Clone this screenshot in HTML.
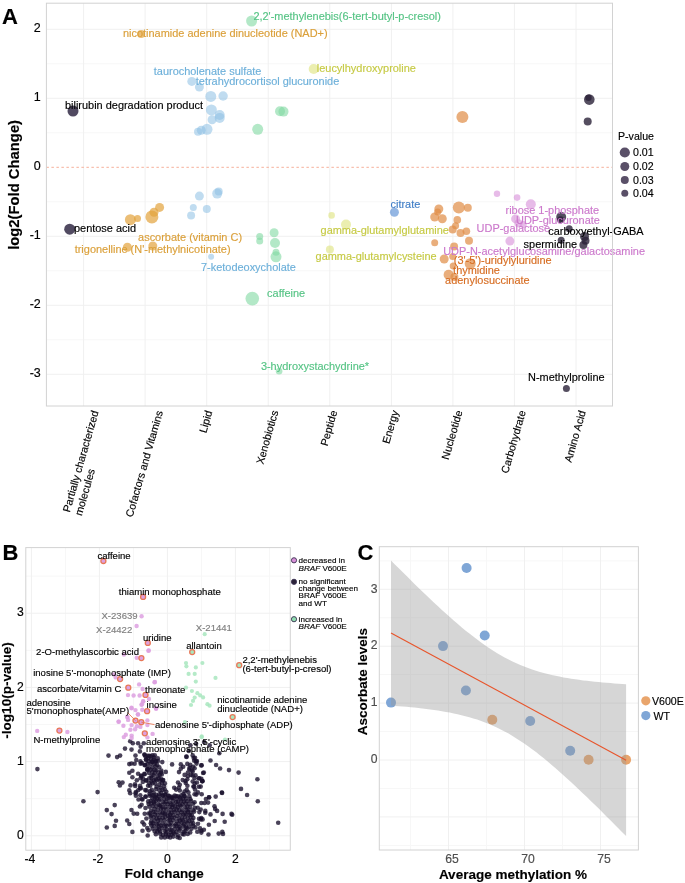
<!DOCTYPE html>
<html><head><meta charset="utf-8"><style>
html,body{margin:0;padding:0;background:#fff;}
svg{display:block;font-family:"Liberation Sans", sans-serif;filter:blur(0.4px);} text{stroke-width:0.15px;}
</style></head><body>
<svg width="685" height="883" viewBox="0 0 685 883">
<rect width="685" height="883" fill="#fff"/>
<line x1="46.4" y1="63.8" x2="612.5" y2="63.8" stroke="#F7F7F7" stroke-width="1"/>
<line x1="46.4" y1="132.8" x2="612.5" y2="132.8" stroke="#F7F7F7" stroke-width="1"/>
<line x1="46.4" y1="201.8" x2="612.5" y2="201.8" stroke="#F7F7F7" stroke-width="1"/>
<line x1="46.4" y1="270.8" x2="612.5" y2="270.8" stroke="#F7F7F7" stroke-width="1"/>
<line x1="46.4" y1="339.8" x2="612.5" y2="339.8" stroke="#F7F7F7" stroke-width="1"/>
<line x1="46.4" y1="29.3" x2="612.5" y2="29.3" stroke="#F0F0F0" stroke-width="1"/>
<line x1="46.4" y1="98.3" x2="612.5" y2="98.3" stroke="#F0F0F0" stroke-width="1"/>
<line x1="46.4" y1="236.3" x2="612.5" y2="236.3" stroke="#F0F0F0" stroke-width="1"/>
<line x1="46.4" y1="305.3" x2="612.5" y2="305.3" stroke="#F0F0F0" stroke-width="1"/>
<line x1="46.4" y1="374.3" x2="612.5" y2="374.3" stroke="#F0F0F0" stroke-width="1"/>
<line x1="83.6" y1="3.2" x2="83.6" y2="406.0" stroke="#F0F0F0" stroke-width="1"/>
<line x1="145.1" y1="3.2" x2="145.1" y2="406.0" stroke="#F0F0F0" stroke-width="1"/>
<line x1="206.7" y1="3.2" x2="206.7" y2="406.0" stroke="#F0F0F0" stroke-width="1"/>
<line x1="268.2" y1="3.2" x2="268.2" y2="406.0" stroke="#F0F0F0" stroke-width="1"/>
<line x1="329.8" y1="3.2" x2="329.8" y2="406.0" stroke="#F0F0F0" stroke-width="1"/>
<line x1="391.4" y1="3.2" x2="391.4" y2="406.0" stroke="#F0F0F0" stroke-width="1"/>
<line x1="452.9" y1="3.2" x2="452.9" y2="406.0" stroke="#F0F0F0" stroke-width="1"/>
<line x1="514.4" y1="3.2" x2="514.4" y2="406.0" stroke="#F0F0F0" stroke-width="1"/>
<line x1="576.0" y1="3.2" x2="576.0" y2="406.0" stroke="#F0F0F0" stroke-width="1"/>
<line x1="46.4" y1="167.3" x2="612.5" y2="167.3" stroke="#F6B09A" stroke-width="1" stroke-dasharray="2.5 2.5"/>
<circle cx="73.0" cy="111.0" r="5.5" fill="#3E3650" fill-opacity="0.9"/>
<circle cx="69.7" cy="229.2" r="5.5" fill="#3E3650" fill-opacity="0.9"/>
<circle cx="141.1" cy="34.0" r="4" fill="#E3A23C" fill-opacity="0.7"/>
<circle cx="130.4" cy="219.7" r="5.5" fill="#E3A23C" fill-opacity="0.7"/>
<circle cx="137.5" cy="218.4" r="3.5" fill="#E3A23C" fill-opacity="0.7"/>
<circle cx="151.9" cy="216.9" r="6.5" fill="#E3A23C" fill-opacity="0.7"/>
<circle cx="154.0" cy="212.3" r="4.5" fill="#E3A23C" fill-opacity="0.7"/>
<circle cx="159.6" cy="207.4" r="4.5" fill="#E3A23C" fill-opacity="0.7"/>
<circle cx="127.4" cy="247.3" r="4.5" fill="#E3A23C" fill-opacity="0.7"/>
<circle cx="152.8" cy="246.0" r="4.5" fill="#E3A23C" fill-opacity="0.7"/>
<circle cx="191.8" cy="81.4" r="4.5" fill="#8DC0E4" fill-opacity="0.55"/>
<circle cx="199.4" cy="87.1" r="4.5" fill="#8DC0E4" fill-opacity="0.55"/>
<circle cx="210.8" cy="96.4" r="5.5" fill="#8DC0E4" fill-opacity="0.55"/>
<circle cx="223.1" cy="96.0" r="4.7" fill="#8DC0E4" fill-opacity="0.55"/>
<circle cx="211.4" cy="109.9" r="5.5" fill="#8DC0E4" fill-opacity="0.55"/>
<circle cx="219.7" cy="115.0" r="5" fill="#8DC0E4" fill-opacity="0.55"/>
<circle cx="219.7" cy="117.9" r="5" fill="#8DC0E4" fill-opacity="0.55"/>
<circle cx="212.1" cy="119.8" r="4.5" fill="#8DC0E4" fill-opacity="0.55"/>
<circle cx="207.0" cy="129.3" r="5.5" fill="#8DC0E4" fill-opacity="0.55"/>
<circle cx="201.3" cy="130.2" r="4.5" fill="#8DC0E4" fill-opacity="0.55"/>
<circle cx="198.0" cy="131.7" r="4" fill="#8DC0E4" fill-opacity="0.55"/>
<circle cx="199.4" cy="196.1" r="4.5" fill="#8DC0E4" fill-opacity="0.55"/>
<circle cx="217.2" cy="193.6" r="5" fill="#8DC0E4" fill-opacity="0.55"/>
<circle cx="218.7" cy="191.5" r="4" fill="#8DC0E4" fill-opacity="0.55"/>
<circle cx="193.3" cy="207.4" r="3.5" fill="#8DC0E4" fill-opacity="0.55"/>
<circle cx="206.8" cy="208.9" r="4" fill="#8DC0E4" fill-opacity="0.55"/>
<circle cx="191.1" cy="215.4" r="4" fill="#8DC0E4" fill-opacity="0.55"/>
<circle cx="211.1" cy="256.8" r="3" fill="#8DC0E4" fill-opacity="0.55"/>
<circle cx="251.6" cy="21.0" r="5.5" fill="#80D8A2" fill-opacity="0.6"/>
<circle cx="257.7" cy="129.3" r="5.5" fill="#80D8A2" fill-opacity="0.6"/>
<circle cx="280.0" cy="111.2" r="5" fill="#80D8A2" fill-opacity="0.6"/>
<circle cx="283.5" cy="111.6" r="5" fill="#80D8A2" fill-opacity="0.6"/>
<circle cx="259.7" cy="236.5" r="3.5" fill="#80D8A2" fill-opacity="0.6"/>
<circle cx="259.7" cy="241.1" r="3.5" fill="#80D8A2" fill-opacity="0.6"/>
<circle cx="274.1" cy="232.8" r="4.5" fill="#80D8A2" fill-opacity="0.6"/>
<circle cx="275.0" cy="243.0" r="5" fill="#80D8A2" fill-opacity="0.6"/>
<circle cx="276.0" cy="252.2" r="3.5" fill="#80D8A2" fill-opacity="0.6"/>
<circle cx="276.0" cy="256.8" r="5.5" fill="#80D8A2" fill-opacity="0.6"/>
<circle cx="252.3" cy="298.6" r="6.8" fill="#80D8A2" fill-opacity="0.6"/>
<circle cx="279.1" cy="371.3" r="3.3" fill="#80D8A2" fill-opacity="0.6"/>
<circle cx="313.7" cy="69.0" r="5" fill="#DDE27C" fill-opacity="0.6"/>
<circle cx="331.6" cy="215.4" r="3.3" fill="#DDE27C" fill-opacity="0.6"/>
<circle cx="346.0" cy="224.6" r="5" fill="#DDE27C" fill-opacity="0.6"/>
<circle cx="329.9" cy="249.4" r="4" fill="#DDE27C" fill-opacity="0.6"/>
<circle cx="394.4" cy="212.2" r="4.5" fill="#5B8FD4" fill-opacity="0.65"/>
<circle cx="462.4" cy="117.1" r="6" fill="#E08B45" fill-opacity="0.7"/>
<circle cx="438.8" cy="209.0" r="4.5" fill="#E08B45" fill-opacity="0.7"/>
<circle cx="437.6" cy="211.9" r="3.5" fill="#E08B45" fill-opacity="0.7"/>
<circle cx="434.7" cy="217.0" r="4.5" fill="#E08B45" fill-opacity="0.7"/>
<circle cx="442.3" cy="218.8" r="4.5" fill="#E08B45" fill-opacity="0.7"/>
<circle cx="458.8" cy="207.5" r="6" fill="#E08B45" fill-opacity="0.7"/>
<circle cx="467.8" cy="207.8" r="4" fill="#E08B45" fill-opacity="0.7"/>
<circle cx="457.3" cy="219.9" r="3.8" fill="#E08B45" fill-opacity="0.7"/>
<circle cx="455.6" cy="225.8" r="3.5" fill="#E08B45" fill-opacity="0.7"/>
<circle cx="452.7" cy="229.4" r="4" fill="#E08B45" fill-opacity="0.7"/>
<circle cx="460.5" cy="233.1" r="4" fill="#E08B45" fill-opacity="0.7"/>
<circle cx="466.4" cy="231.2" r="3.8" fill="#E08B45" fill-opacity="0.7"/>
<circle cx="434.7" cy="242.8" r="3.5" fill="#E08B45" fill-opacity="0.7"/>
<circle cx="469.0" cy="240.8" r="4" fill="#E08B45" fill-opacity="0.7"/>
<circle cx="454.1" cy="246.6" r="4" fill="#E08B45" fill-opacity="0.7"/>
<circle cx="444.2" cy="259.0" r="4.5" fill="#E08B45" fill-opacity="0.7"/>
<circle cx="452.7" cy="256.4" r="3.5" fill="#E08B45" fill-opacity="0.7"/>
<circle cx="470.2" cy="263.7" r="5.5" fill="#E08B45" fill-opacity="0.7"/>
<circle cx="453.2" cy="265.9" r="3.5" fill="#E08B45" fill-opacity="0.7"/>
<circle cx="448.6" cy="274.7" r="5" fill="#E08B45" fill-opacity="0.7"/>
<circle cx="454.4" cy="276.9" r="4" fill="#E08B45" fill-opacity="0.7"/>
<circle cx="497.0" cy="193.7" r="3.2" fill="#D78ED8" fill-opacity="0.6"/>
<circle cx="517.1" cy="197.6" r="3.3" fill="#D78ED8" fill-opacity="0.6"/>
<circle cx="530.8" cy="204.3" r="5" fill="#D78ED8" fill-opacity="0.6"/>
<circle cx="515.6" cy="218.9" r="4.5" fill="#D78ED8" fill-opacity="0.6"/>
<circle cx="518.5" cy="223.3" r="4" fill="#D78ED8" fill-opacity="0.6"/>
<circle cx="523.2" cy="224.6" r="3.5" fill="#D78ED8" fill-opacity="0.6"/>
<circle cx="509.9" cy="241.1" r="4.5" fill="#D78ED8" fill-opacity="0.6"/>
<circle cx="589.3" cy="99.6" r="5.3" fill="#2A2238" fill-opacity="0.8"/>
<circle cx="588.5" cy="97.8" r="3.2" fill="#2A2238" fill-opacity="0.8"/>
<circle cx="587.7" cy="121.5" r="4" fill="#2A2238" fill-opacity="0.8"/>
<circle cx="561.2" cy="217.0" r="5" fill="#2A2238" fill-opacity="0.8"/>
<circle cx="560.6" cy="219.8" r="3.5" fill="#2A2238" fill-opacity="0.8"/>
<circle cx="569.2" cy="228.8" r="3.5" fill="#2A2238" fill-opacity="0.8"/>
<circle cx="561.2" cy="240.3" r="3.5" fill="#2A2238" fill-opacity="0.8"/>
<circle cx="584.5" cy="236.5" r="4.5" fill="#2A2238" fill-opacity="0.8"/>
<circle cx="585.5" cy="240.7" r="4" fill="#2A2238" fill-opacity="0.8"/>
<circle cx="583.4" cy="244.9" r="4" fill="#2A2238" fill-opacity="0.8"/>
<circle cx="566.4" cy="388.4" r="3.5" fill="#2A2238" fill-opacity="0.8"/>
<text x="123.0" y="37.0" font-size="10.95" fill="#DBA03A" stroke="#DBA03A" text-anchor="start">nicotinamide adenine dinucleotide (NAD+)</text>
<text x="253.4" y="19.6" font-size="10.95" fill="#56C485" stroke="#56C485" text-anchor="start">2,2'-methylenebis(6-tert-butyl-p-cresol)</text>
<text x="153.8" y="75.2" font-size="10.95" fill="#6DB0DA" stroke="#6DB0DA" text-anchor="start">taurocholenate sulfate</text>
<text x="195.8" y="85.1" font-size="10.95" fill="#6DB0DA" stroke="#6DB0DA" text-anchor="start">tetrahydrocortisol glucuronide</text>
<text x="316.8" y="71.6" font-size="10.95" fill="#C6CA44" stroke="#C6CA44" text-anchor="start">leucylhydroxyproline</text>
<text x="65.0" y="109.3" font-size="10.95" fill="#000000" stroke="#000000" text-anchor="start">bilirubin degradation product</text>
<text x="74.0" y="231.9" font-size="10.95" fill="#000000" stroke="#000000" text-anchor="start">pentose acid</text>
<text x="138.1" y="241.1" font-size="10.95" fill="#DBA03A" stroke="#DBA03A" text-anchor="start">ascorbate (vitamin C)</text>
<text x="74.7" y="252.8" font-size="10.95" fill="#DBA03A" stroke="#DBA03A" text-anchor="start">trigonelline (N'-methylnicotinate)</text>
<text x="201.0" y="271.0" font-size="10.95" fill="#6DB0DA" stroke="#6DB0DA" text-anchor="start">7-ketodeoxycholate</text>
<text x="320.6" y="234.0" font-size="10.95" fill="#C6CA44" stroke="#C6CA44" text-anchor="start">gamma-glutamylglutamine</text>
<text x="315.6" y="259.8" font-size="10.95" fill="#C6CA44" stroke="#C6CA44" text-anchor="start">gamma-glutamylcysteine</text>
<text x="390.5" y="207.7" font-size="10.95" fill="#3F7DC6" stroke="#3F7DC6" text-anchor="start">citrate</text>
<text x="267.1" y="297.3" font-size="10.95" fill="#56C485" stroke="#56C485" text-anchor="start">caffeine</text>
<text x="260.9" y="369.8" font-size="10.95" fill="#56C485" stroke="#56C485" text-anchor="start">3-hydroxystachydrine*</text>
<text x="505.5" y="213.5" font-size="10.95" fill="#CC79CC" stroke="#CC79CC" text-anchor="start">ribose 1-phosphate</text>
<text x="516.0" y="223.5" font-size="10.95" fill="#CC79CC" stroke="#CC79CC" text-anchor="start">UDP-glucuronate</text>
<text x="476.6" y="231.7" font-size="10.95" fill="#CC79CC" stroke="#CC79CC" text-anchor="start">UDP-galactose</text>
<text x="443.2" y="254.5" font-size="10.95" fill="#CC79CC" stroke="#CC79CC" text-anchor="start">UDP-N-acetylglucosamine/galactosamine</text>
<text x="453.8" y="264.4" font-size="10.95" fill="#D76D22" stroke="#D76D22" text-anchor="start">(3'-5')-uridylyluridine</text>
<text x="453.1" y="274.0" font-size="10.95" fill="#D76D22" stroke="#D76D22" text-anchor="start">thymidine</text>
<text x="445.1" y="284.2" font-size="10.95" fill="#D76D22" stroke="#D76D22" text-anchor="start">adenylosuccinate</text>
<text x="548.2" y="235.4" font-size="10.95" fill="#000000" stroke="#000000" text-anchor="start">carboxyethyl-GABA</text>
<text x="523.6" y="248.2" font-size="10.95" fill="#000000" stroke="#000000" text-anchor="start">spermidine</text>
<text x="528.0" y="381.1" font-size="10.95" fill="#000000" stroke="#000000" text-anchor="start">N-methylproline</text>
<rect x="46.4" y="3.2" width="566.1" height="402.8" fill="none" stroke="#D2D2D2" stroke-width="1"/>
<text x="40.8" y="31.8" font-size="12.5" fill="#000" stroke="#000" text-anchor="end">2</text>
<text x="40.8" y="100.8" font-size="12.5" fill="#000" stroke="#000" text-anchor="end">1</text>
<text x="40.8" y="169.8" font-size="12.5" fill="#000" stroke="#000" text-anchor="end">0</text>
<text x="40.8" y="238.8" font-size="12.5" fill="#000" stroke="#000" text-anchor="end">-1</text>
<text x="40.8" y="307.8" font-size="12.5" fill="#000" stroke="#000" text-anchor="end">-2</text>
<text x="40.8" y="376.8" font-size="12.5" fill="#000" stroke="#000" text-anchor="end">-3</text>
<text x="0" y="0" font-size="14.8" font-weight="bold" fill="#000" stroke="#000" text-anchor="middle" transform="translate(18.8 184.9) rotate(-90)">log2(Fold Change)</text>
<text x="2.0" y="23.7" font-size="22" font-weight="bold" fill="#000" stroke="#000">A</text>
<text x="0" y="0" font-size="10.7" fill="#000" stroke="#000" transform="translate(69.7 512.8) rotate(-74)">Partially characterized</text>
<text x="0" y="0" font-size="10.7" fill="#000" stroke="#000" transform="translate(69.7 512.8) rotate(-74) translate(0 12.6)">molecules</text>
<text x="0" y="0" font-size="10.7" fill="#000" stroke="#000" transform="translate(132.6 517.8) rotate(-74)">Cofactors and Vitamins</text>
<text x="0" y="0" font-size="10.7" fill="#000" stroke="#000" transform="translate(206.2 433.4) rotate(-74)">Lipid</text>
<text x="0" y="0" font-size="10.7" fill="#000" stroke="#000" transform="translate(263.2 464.8) rotate(-74)">Xenobiotics</text>
<text x="0" y="0" font-size="10.7" fill="#000" stroke="#000" transform="translate(327.4 446.5) rotate(-74)">Peptide</text>
<text x="0" y="0" font-size="10.7" fill="#000" stroke="#000" transform="translate(389.3 444.2) rotate(-74)">Energy</text>
<text x="0" y="0" font-size="10.7" fill="#000" stroke="#000" transform="translate(448.6 460.2) rotate(-74)">Nucleotide</text>
<text x="0" y="0" font-size="10.7" fill="#000" stroke="#000" transform="translate(508.1 473.9) rotate(-74)">Carbohydrate</text>
<text x="0" y="0" font-size="10.7" fill="#000" stroke="#000" transform="translate(571.2 463.1) rotate(-74)">Amino Acid</text>
<text x="618.0" y="139.9" font-size="10.6" fill="#000" stroke="#000" text-anchor="start">P-value</text>
<circle cx="624.8" cy="152.5" r="5.1" fill="#5A5068"/>
<text x="633.0" y="156.3" font-size="10.6" fill="#000" stroke="#000" text-anchor="start">0.01</text>
<circle cx="624.8" cy="166.5" r="4.5" fill="#5A5068"/>
<text x="633.0" y="170.3" font-size="10.6" fill="#000" stroke="#000" text-anchor="start">0.02</text>
<circle cx="624.8" cy="179.9" r="4.0" fill="#5A5068"/>
<text x="633.0" y="183.7" font-size="10.6" fill="#000" stroke="#000" text-anchor="start">0.03</text>
<circle cx="624.8" cy="193.2" r="3.5" fill="#5A5068"/>
<text x="633.0" y="197.0" font-size="10.6" fill="#000" stroke="#000" text-anchor="start">0.04</text>
<line x1="65.4" y1="547.6" x2="65.4" y2="850.2" stroke="#F7F7F7" stroke-width="1"/>
<line x1="133.4" y1="547.6" x2="133.4" y2="850.2" stroke="#F7F7F7" stroke-width="1"/>
<line x1="201.4" y1="547.6" x2="201.4" y2="850.2" stroke="#F7F7F7" stroke-width="1"/>
<line x1="269.4" y1="547.6" x2="269.4" y2="850.2" stroke="#F7F7F7" stroke-width="1"/>
<line x1="25.8" y1="798.7" x2="290.3" y2="798.7" stroke="#F7F7F7" stroke-width="1"/>
<line x1="25.8" y1="724.5" x2="290.3" y2="724.5" stroke="#F7F7F7" stroke-width="1"/>
<line x1="25.8" y1="650.3" x2="290.3" y2="650.3" stroke="#F7F7F7" stroke-width="1"/>
<line x1="25.8" y1="576.1" x2="290.3" y2="576.1" stroke="#F7F7F7" stroke-width="1"/>
<line x1="31.4" y1="547.6" x2="31.4" y2="850.2" stroke="#F0F0F0" stroke-width="1"/>
<line x1="99.4" y1="547.6" x2="99.4" y2="850.2" stroke="#F0F0F0" stroke-width="1"/>
<line x1="167.4" y1="547.6" x2="167.4" y2="850.2" stroke="#F0F0F0" stroke-width="1"/>
<line x1="235.4" y1="547.6" x2="235.4" y2="850.2" stroke="#F0F0F0" stroke-width="1"/>
<line x1="25.8" y1="835.8" x2="290.3" y2="835.8" stroke="#F0F0F0" stroke-width="1"/>
<line x1="25.8" y1="761.6" x2="290.3" y2="761.6" stroke="#F0F0F0" stroke-width="1"/>
<line x1="25.8" y1="687.4" x2="290.3" y2="687.4" stroke="#F0F0F0" stroke-width="1"/>
<line x1="25.8" y1="613.2" x2="290.3" y2="613.2" stroke="#F0F0F0" stroke-width="1"/>
<circle cx="37.4" cy="769.1" r="2.3" fill="#1A102C" fill-opacity="0.79"/>
<circle cx="97.6" cy="792.1" r="2.3" fill="#1A102C" fill-opacity="0.79"/>
<circle cx="83.4" cy="801.3" r="2.3" fill="#1A102C" fill-opacity="0.79"/>
<circle cx="118.7" cy="782.2" r="2.3" fill="#1A102C" fill-opacity="0.79"/>
<circle cx="122.5" cy="782.6" r="2.3" fill="#1A102C" fill-opacity="0.79"/>
<circle cx="119.9" cy="785.5" r="2.3" fill="#1A102C" fill-opacity="0.79"/>
<circle cx="114.7" cy="805.1" r="2.3" fill="#1A102C" fill-opacity="0.79"/>
<circle cx="106.8" cy="810.1" r="2.3" fill="#1A102C" fill-opacity="0.79"/>
<circle cx="111.6" cy="814.1" r="2.3" fill="#1A102C" fill-opacity="0.79"/>
<circle cx="116.0" cy="820.7" r="2.3" fill="#1A102C" fill-opacity="0.79"/>
<circle cx="106.8" cy="827.5" r="2.3" fill="#1A102C" fill-opacity="0.79"/>
<circle cx="114.7" cy="825.9" r="2.3" fill="#1A102C" fill-opacity="0.79"/>
<circle cx="108.5" cy="755.6" r="2.3" fill="#1A102C" fill-opacity="0.79"/>
<circle cx="117.1" cy="757.1" r="2.3" fill="#1A102C" fill-opacity="0.79"/>
<circle cx="120.1" cy="755.6" r="2.3" fill="#1A102C" fill-opacity="0.79"/>
<circle cx="125.0" cy="748.6" r="2.3" fill="#1A102C" fill-opacity="0.79"/>
<circle cx="130.2" cy="741.3" r="2.3" fill="#1A102C" fill-opacity="0.79"/>
<circle cx="132.8" cy="743.3" r="2.3" fill="#1A102C" fill-opacity="0.79"/>
<circle cx="138.1" cy="743.3" r="2.3" fill="#1A102C" fill-opacity="0.79"/>
<circle cx="143.8" cy="743.3" r="2.3" fill="#1A102C" fill-opacity="0.79"/>
<circle cx="140.7" cy="746.8" r="2.3" fill="#1A102C" fill-opacity="0.79"/>
<circle cx="131.5" cy="749.6" r="2.3" fill="#1A102C" fill-opacity="0.79"/>
<circle cx="139.9" cy="751.4" r="2.3" fill="#1A102C" fill-opacity="0.79"/>
<circle cx="135.5" cy="755.6" r="2.3" fill="#1A102C" fill-opacity="0.79"/>
<circle cx="144.7" cy="754.7" r="2.3" fill="#1A102C" fill-opacity="0.79"/>
<circle cx="147.7" cy="755.8" r="2.3" fill="#1A102C" fill-opacity="0.79"/>
<circle cx="150.8" cy="756.2" r="2.3" fill="#1A102C" fill-opacity="0.79"/>
<circle cx="146.0" cy="759.3" r="2.3" fill="#1A102C" fill-opacity="0.79"/>
<circle cx="136.3" cy="760.1" r="2.3" fill="#1A102C" fill-opacity="0.79"/>
<circle cx="129.3" cy="764.1" r="2.3" fill="#1A102C" fill-opacity="0.79"/>
<circle cx="131.5" cy="763.5" r="2.3" fill="#1A102C" fill-opacity="0.79"/>
<circle cx="134.6" cy="763.8" r="2.3" fill="#1A102C" fill-opacity="0.79"/>
<circle cx="140.7" cy="763.8" r="2.3" fill="#1A102C" fill-opacity="0.79"/>
<circle cx="144.7" cy="765.2" r="2.3" fill="#1A102C" fill-opacity="0.79"/>
<circle cx="147.3" cy="768.9" r="2.3" fill="#1A102C" fill-opacity="0.79"/>
<circle cx="152.6" cy="761.9" r="2.3" fill="#1A102C" fill-opacity="0.79"/>
<circle cx="153.9" cy="757.5" r="2.3" fill="#1A102C" fill-opacity="0.79"/>
<circle cx="156.1" cy="761.0" r="2.3" fill="#1A102C" fill-opacity="0.79"/>
<circle cx="132.4" cy="770.7" r="2.3" fill="#1A102C" fill-opacity="0.79"/>
<circle cx="129.3" cy="772.8" r="2.3" fill="#1A102C" fill-opacity="0.79"/>
<circle cx="138.1" cy="773.7" r="2.3" fill="#1A102C" fill-opacity="0.79"/>
<circle cx="141.2" cy="775.5" r="2.3" fill="#1A102C" fill-opacity="0.79"/>
<circle cx="144.7" cy="774.2" r="2.3" fill="#1A102C" fill-opacity="0.79"/>
<circle cx="132.4" cy="777.2" r="2.3" fill="#1A102C" fill-opacity="0.79"/>
<circle cx="142.9" cy="778.5" r="2.3" fill="#1A102C" fill-opacity="0.79"/>
<circle cx="136.8" cy="780.3" r="2.3" fill="#1A102C" fill-opacity="0.79"/>
<circle cx="146.0" cy="780.3" r="2.3" fill="#1A102C" fill-opacity="0.79"/>
<circle cx="135.0" cy="784.2" r="2.3" fill="#1A102C" fill-opacity="0.79"/>
<circle cx="130.5" cy="785.4" r="2.3" fill="#1A102C" fill-opacity="0.79"/>
<circle cx="139.9" cy="788.2" r="2.3" fill="#1A102C" fill-opacity="0.79"/>
<circle cx="129.3" cy="790.4" r="2.3" fill="#1A102C" fill-opacity="0.79"/>
<circle cx="135.9" cy="792.1" r="2.3" fill="#1A102C" fill-opacity="0.79"/>
<circle cx="146.4" cy="790.4" r="2.3" fill="#1A102C" fill-opacity="0.79"/>
<circle cx="131.5" cy="810.0" r="2.3" fill="#1A102C" fill-opacity="0.79"/>
<circle cx="133.7" cy="813.6" r="2.3" fill="#1A102C" fill-opacity="0.79"/>
<circle cx="137.2" cy="813.8" r="2.3" fill="#1A102C" fill-opacity="0.79"/>
<circle cx="127.2" cy="820.5" r="2.3" fill="#1A102C" fill-opacity="0.79"/>
<circle cx="129.3" cy="824.0" r="2.3" fill="#1A102C" fill-opacity="0.79"/>
<circle cx="132.4" cy="831.9" r="2.3" fill="#1A102C" fill-opacity="0.79"/>
<circle cx="130.2" cy="793.3" r="2.3" fill="#1A102C" fill-opacity="0.79"/>
<circle cx="135.5" cy="793.3" r="2.3" fill="#1A102C" fill-opacity="0.79"/>
<circle cx="135.9" cy="795.7" r="2.3" fill="#1A102C" fill-opacity="0.79"/>
<circle cx="138.5" cy="799.5" r="2.3" fill="#1A102C" fill-opacity="0.79"/>
<circle cx="142.5" cy="799.5" r="2.3" fill="#1A102C" fill-opacity="0.79"/>
<circle cx="139.9" cy="806.5" r="2.3" fill="#1A102C" fill-opacity="0.79"/>
<circle cx="141.6" cy="804.7" r="2.3" fill="#1A102C" fill-opacity="0.79"/>
<circle cx="145.5" cy="796.6" r="2.3" fill="#1A102C" fill-opacity="0.79"/>
<circle cx="145.5" cy="808.0" r="2.3" fill="#1A102C" fill-opacity="0.79"/>
<circle cx="144.7" cy="813.8" r="2.3" fill="#1A102C" fill-opacity="0.79"/>
<circle cx="148.6" cy="813.5" r="2.3" fill="#1A102C" fill-opacity="0.79"/>
<circle cx="146.4" cy="818.5" r="2.3" fill="#1A102C" fill-opacity="0.79"/>
<circle cx="142.5" cy="822.2" r="2.3" fill="#1A102C" fill-opacity="0.79"/>
<circle cx="144.2" cy="824.6" r="2.3" fill="#1A102C" fill-opacity="0.79"/>
<circle cx="147.3" cy="828.1" r="2.3" fill="#1A102C" fill-opacity="0.79"/>
<circle cx="148.6" cy="830.3" r="2.3" fill="#1A102C" fill-opacity="0.79"/>
<circle cx="142.5" cy="830.7" r="2.3" fill="#1A102C" fill-opacity="0.79"/>
<circle cx="147.7" cy="835.5" r="2.3" fill="#1A102C" fill-opacity="0.79"/>
<circle cx="150.8" cy="823.3" r="2.3" fill="#1A102C" fill-opacity="0.79"/>
<circle cx="148.2" cy="801.4" r="2.3" fill="#1A102C" fill-opacity="0.79"/>
<circle cx="148.6" cy="804.0" r="2.3" fill="#1A102C" fill-opacity="0.79"/>
<circle cx="190.4" cy="745.3" r="2.3" fill="#1A102C" fill-opacity="0.79"/>
<circle cx="196.1" cy="743.7" r="2.3" fill="#1A102C" fill-opacity="0.79"/>
<circle cx="204.1" cy="742.0" r="2.3" fill="#1A102C" fill-opacity="0.79"/>
<circle cx="209.7" cy="745.3" r="2.3" fill="#1A102C" fill-opacity="0.79"/>
<circle cx="188.8" cy="750.9" r="2.3" fill="#1A102C" fill-opacity="0.79"/>
<circle cx="219.3" cy="753.3" r="2.3" fill="#1A102C" fill-opacity="0.79"/>
<circle cx="186.4" cy="756.5" r="2.3" fill="#1A102C" fill-opacity="0.79"/>
<circle cx="193.7" cy="758.1" r="2.3" fill="#1A102C" fill-opacity="0.79"/>
<circle cx="196.1" cy="761.3" r="2.3" fill="#1A102C" fill-opacity="0.79"/>
<circle cx="210.5" cy="760.5" r="2.3" fill="#1A102C" fill-opacity="0.79"/>
<circle cx="216.1" cy="765.0" r="2.3" fill="#1A102C" fill-opacity="0.79"/>
<circle cx="220.1" cy="768.5" r="2.3" fill="#1A102C" fill-opacity="0.79"/>
<circle cx="201.7" cy="765.3" r="2.3" fill="#1A102C" fill-opacity="0.79"/>
<circle cx="229.0" cy="770.1" r="2.3" fill="#1A102C" fill-opacity="0.79"/>
<circle cx="238.6" cy="772.6" r="2.3" fill="#1A102C" fill-opacity="0.79"/>
<circle cx="203.8" cy="772.6" r="2.3" fill="#1A102C" fill-opacity="0.79"/>
<circle cx="257.4" cy="779.3" r="2.3" fill="#1A102C" fill-opacity="0.79"/>
<circle cx="202.5" cy="781.1" r="2.3" fill="#1A102C" fill-opacity="0.79"/>
<circle cx="199.3" cy="778.2" r="2.3" fill="#1A102C" fill-opacity="0.79"/>
<circle cx="241.0" cy="788.9" r="2.3" fill="#1A102C" fill-opacity="0.79"/>
<circle cx="247.1" cy="795.0" r="2.3" fill="#1A102C" fill-opacity="0.79"/>
<circle cx="221.8" cy="792.6" r="2.3" fill="#1A102C" fill-opacity="0.79"/>
<circle cx="215.7" cy="796.6" r="2.3" fill="#1A102C" fill-opacity="0.79"/>
<circle cx="208.9" cy="797.4" r="2.3" fill="#1A102C" fill-opacity="0.79"/>
<circle cx="202.4" cy="781.3" r="2.3" fill="#1A102C" fill-opacity="0.79"/>
<circle cx="200.7" cy="786.6" r="2.3" fill="#1A102C" fill-opacity="0.79"/>
<circle cx="222.1" cy="792.9" r="2.3" fill="#1A102C" fill-opacity="0.79"/>
<circle cx="257.8" cy="801.3" r="2.3" fill="#1A102C" fill-opacity="0.79"/>
<circle cx="209.2" cy="797.3" r="2.3" fill="#1A102C" fill-opacity="0.79"/>
<circle cx="205.9" cy="799.1" r="2.3" fill="#1A102C" fill-opacity="0.79"/>
<circle cx="201.3" cy="803.0" r="2.3" fill="#1A102C" fill-opacity="0.79"/>
<circle cx="204.6" cy="803.0" r="2.3" fill="#1A102C" fill-opacity="0.79"/>
<circle cx="208.1" cy="802.6" r="2.3" fill="#1A102C" fill-opacity="0.79"/>
<circle cx="214.5" cy="806.3" r="2.3" fill="#1A102C" fill-opacity="0.79"/>
<circle cx="215.1" cy="808.9" r="2.3" fill="#1A102C" fill-opacity="0.79"/>
<circle cx="217.1" cy="810.9" r="2.3" fill="#1A102C" fill-opacity="0.79"/>
<circle cx="205.3" cy="810.9" r="2.3" fill="#1A102C" fill-opacity="0.79"/>
<circle cx="205.3" cy="812.8" r="2.3" fill="#1A102C" fill-opacity="0.79"/>
<circle cx="210.5" cy="814.4" r="2.3" fill="#1A102C" fill-opacity="0.79"/>
<circle cx="222.6" cy="813.9" r="2.3" fill="#1A102C" fill-opacity="0.79"/>
<circle cx="231.5" cy="813.9" r="2.3" fill="#1A102C" fill-opacity="0.79"/>
<circle cx="232.2" cy="814.8" r="2.3" fill="#1A102C" fill-opacity="0.79"/>
<circle cx="201.3" cy="818.1" r="2.3" fill="#1A102C" fill-opacity="0.79"/>
<circle cx="202.6" cy="819.4" r="2.3" fill="#1A102C" fill-opacity="0.79"/>
<circle cx="214.7" cy="821.0" r="2.3" fill="#1A102C" fill-opacity="0.79"/>
<circle cx="224.7" cy="821.8" r="2.3" fill="#1A102C" fill-opacity="0.79"/>
<circle cx="208.9" cy="824.7" r="2.3" fill="#1A102C" fill-opacity="0.79"/>
<circle cx="203.9" cy="829.7" r="2.3" fill="#1A102C" fill-opacity="0.79"/>
<circle cx="201.3" cy="832.6" r="2.3" fill="#1A102C" fill-opacity="0.79"/>
<circle cx="208.5" cy="834.5" r="2.3" fill="#1A102C" fill-opacity="0.79"/>
<circle cx="218.7" cy="833.6" r="2.3" fill="#1A102C" fill-opacity="0.79"/>
<circle cx="222.3" cy="831.9" r="2.3" fill="#1A102C" fill-opacity="0.79"/>
<circle cx="223.0" cy="833.9" r="2.3" fill="#1A102C" fill-opacity="0.79"/>
<circle cx="278.2" cy="822.7" r="2.3" fill="#1A102C" fill-opacity="0.79"/>
<circle cx="200.7" cy="809.6" r="2.3" fill="#1A102C" fill-opacity="0.79"/>
<circle cx="200.7" cy="819.4" r="2.3" fill="#1A102C" fill-opacity="0.79"/>
<circle cx="186.5" cy="756.9" r="2.3" fill="#1A102C" fill-opacity="0.79"/>
<circle cx="192.7" cy="755.4" r="2.3" fill="#1A102C" fill-opacity="0.79"/>
<circle cx="195.0" cy="757.8" r="2.3" fill="#1A102C" fill-opacity="0.79"/>
<circle cx="196.9" cy="761.1" r="2.3" fill="#1A102C" fill-opacity="0.79"/>
<circle cx="201.2" cy="765.4" r="2.3" fill="#1A102C" fill-opacity="0.79"/>
<circle cx="180.8" cy="764.4" r="2.3" fill="#1A102C" fill-opacity="0.79"/>
<circle cx="183.2" cy="766.8" r="2.3" fill="#1A102C" fill-opacity="0.79"/>
<circle cx="180.8" cy="768.7" r="2.3" fill="#1A102C" fill-opacity="0.79"/>
<circle cx="190.3" cy="764.9" r="2.3" fill="#1A102C" fill-opacity="0.79"/>
<circle cx="193.1" cy="766.8" r="2.3" fill="#1A102C" fill-opacity="0.79"/>
<circle cx="194.6" cy="768.2" r="2.3" fill="#1A102C" fill-opacity="0.79"/>
<circle cx="189.3" cy="769.2" r="2.3" fill="#1A102C" fill-opacity="0.79"/>
<circle cx="191.7" cy="770.6" r="2.3" fill="#1A102C" fill-opacity="0.79"/>
<circle cx="203.1" cy="773.0" r="2.3" fill="#1A102C" fill-opacity="0.79"/>
<circle cx="184.6" cy="774.9" r="2.3" fill="#1A102C" fill-opacity="0.79"/>
<circle cx="187.9" cy="776.3" r="2.3" fill="#1A102C" fill-opacity="0.79"/>
<circle cx="192.7" cy="775.4" r="2.3" fill="#1A102C" fill-opacity="0.79"/>
<circle cx="194.6" cy="778.2" r="2.3" fill="#1A102C" fill-opacity="0.79"/>
<circle cx="198.8" cy="778.2" r="2.3" fill="#1A102C" fill-opacity="0.79"/>
<circle cx="202.1" cy="781.1" r="2.3" fill="#1A102C" fill-opacity="0.79"/>
<circle cx="182.7" cy="780.1" r="2.3" fill="#1A102C" fill-opacity="0.79"/>
<circle cx="185.5" cy="781.1" r="2.3" fill="#1A102C" fill-opacity="0.79"/>
<circle cx="192.7" cy="781.5" r="2.3" fill="#1A102C" fill-opacity="0.79"/>
<circle cx="196.9" cy="782.5" r="2.3" fill="#1A102C" fill-opacity="0.79"/>
<circle cx="178.0" cy="782.5" r="2.3" fill="#1A102C" fill-opacity="0.79"/>
<circle cx="179.8" cy="784.8" r="2.3" fill="#1A102C" fill-opacity="0.79"/>
<circle cx="187.4" cy="785.8" r="2.3" fill="#1A102C" fill-opacity="0.79"/>
<circle cx="194.1" cy="786.7" r="2.3" fill="#1A102C" fill-opacity="0.79"/>
<circle cx="198.8" cy="786.7" r="2.3" fill="#1A102C" fill-opacity="0.79"/>
<circle cx="174.2" cy="787.7" r="2.3" fill="#1A102C" fill-opacity="0.79"/>
<circle cx="176.1" cy="789.6" r="2.3" fill="#1A102C" fill-opacity="0.79"/>
<circle cx="179.8" cy="790.5" r="2.3" fill="#1A102C" fill-opacity="0.79"/>
<circle cx="184.6" cy="791.5" r="2.3" fill="#1A102C" fill-opacity="0.79"/>
<circle cx="188.4" cy="792.4" r="2.3" fill="#1A102C" fill-opacity="0.79"/>
<circle cx="195.0" cy="789.6" r="2.3" fill="#1A102C" fill-opacity="0.79"/>
<circle cx="197.9" cy="792.4" r="2.3" fill="#1A102C" fill-opacity="0.79"/>
<circle cx="194.6" cy="794.3" r="2.3" fill="#1A102C" fill-opacity="0.79"/>
<circle cx="189.3" cy="796.2" r="2.3" fill="#1A102C" fill-opacity="0.79"/>
<circle cx="184.6" cy="796.2" r="2.3" fill="#1A102C" fill-opacity="0.79"/>
<circle cx="179.8" cy="797.2" r="2.3" fill="#1A102C" fill-opacity="0.79"/>
<circle cx="176.1" cy="796.2" r="2.3" fill="#1A102C" fill-opacity="0.79"/>
<circle cx="172.3" cy="797.7" r="2.3" fill="#1A102C" fill-opacity="0.79"/>
<circle cx="168.5" cy="798.1" r="2.3" fill="#1A102C" fill-opacity="0.79"/>
<circle cx="201.7" cy="794.3" r="2.3" fill="#1A102C" fill-opacity="0.79"/>
<circle cx="172.1" cy="764.4" r="2.3" fill="#1A102C" fill-opacity="0.79"/>
<circle cx="165.8" cy="771.9" r="2.3" fill="#1A102C" fill-opacity="0.79"/>
<circle cx="144.3" cy="754.5" r="2.3" fill="#1A102C" fill-opacity="0.79"/>
<circle cx="141.9" cy="763.0" r="2.3" fill="#1A102C" fill-opacity="0.79"/>
<circle cx="145.2" cy="764.9" r="2.3" fill="#1A102C" fill-opacity="0.79"/>
<circle cx="147.6" cy="769.2" r="2.3" fill="#1A102C" fill-opacity="0.79"/>
<circle cx="144.3" cy="773.9" r="2.3" fill="#1A102C" fill-opacity="0.79"/>
<circle cx="141.4" cy="776.3" r="2.3" fill="#1A102C" fill-opacity="0.79"/>
<circle cx="142.8" cy="782.0" r="2.3" fill="#1A102C" fill-opacity="0.79"/>
<circle cx="146.2" cy="780.6" r="2.3" fill="#1A102C" fill-opacity="0.79"/>
<circle cx="141.0" cy="788.2" r="2.3" fill="#1A102C" fill-opacity="0.79"/>
<circle cx="145.2" cy="790.1" r="2.3" fill="#1A102C" fill-opacity="0.79"/>
<circle cx="148.1" cy="785.8" r="2.3" fill="#1A102C" fill-opacity="0.79"/>
<circle cx="149.5" cy="793.9" r="2.3" fill="#1A102C" fill-opacity="0.79"/>
<circle cx="145.7" cy="796.7" r="2.3" fill="#1A102C" fill-opacity="0.79"/>
<circle cx="141.9" cy="799.1" r="2.3" fill="#1A102C" fill-opacity="0.79"/>
<circle cx="162.3" cy="762.1" r="2.3" fill="#1A102C" fill-opacity="0.79"/>
<circle cx="163.2" cy="780.1" r="2.3" fill="#1A102C" fill-opacity="0.79"/>
<circle cx="161.8" cy="774.4" r="2.3" fill="#1A102C" fill-opacity="0.79"/>
<circle cx="145.4" cy="756.3" r="2.3" fill="#1A102C" fill-opacity="0.79"/>
<circle cx="149.3" cy="755.8" r="2.3" fill="#1A102C" fill-opacity="0.79"/>
<circle cx="152.4" cy="755.2" r="2.3" fill="#1A102C" fill-opacity="0.79"/>
<circle cx="154.8" cy="755.3" r="2.3" fill="#1A102C" fill-opacity="0.79"/>
<circle cx="148.2" cy="758.1" r="2.3" fill="#1A102C" fill-opacity="0.79"/>
<circle cx="151.0" cy="759.6" r="2.3" fill="#1A102C" fill-opacity="0.79"/>
<circle cx="153.8" cy="759.6" r="2.3" fill="#1A102C" fill-opacity="0.79"/>
<circle cx="157.8" cy="758.4" r="2.3" fill="#1A102C" fill-opacity="0.79"/>
<circle cx="148.5" cy="761.2" r="2.3" fill="#1A102C" fill-opacity="0.79"/>
<circle cx="151.8" cy="761.7" r="2.3" fill="#1A102C" fill-opacity="0.79"/>
<circle cx="155.4" cy="761.7" r="2.3" fill="#1A102C" fill-opacity="0.79"/>
<circle cx="158.0" cy="761.0" r="2.3" fill="#1A102C" fill-opacity="0.79"/>
<circle cx="147.5" cy="764.0" r="2.3" fill="#1A102C" fill-opacity="0.79"/>
<circle cx="150.7" cy="764.0" r="2.3" fill="#1A102C" fill-opacity="0.79"/>
<circle cx="154.4" cy="763.9" r="2.3" fill="#1A102C" fill-opacity="0.79"/>
<circle cx="157.2" cy="765.0" r="2.3" fill="#1A102C" fill-opacity="0.79"/>
<circle cx="148.8" cy="768.0" r="2.3" fill="#1A102C" fill-opacity="0.79"/>
<circle cx="152.3" cy="767.6" r="2.3" fill="#1A102C" fill-opacity="0.79"/>
<circle cx="155.6" cy="766.3" r="2.3" fill="#1A102C" fill-opacity="0.79"/>
<circle cx="159.3" cy="767.3" r="2.3" fill="#1A102C" fill-opacity="0.79"/>
<circle cx="147.3" cy="770.3" r="2.3" fill="#1A102C" fill-opacity="0.79"/>
<circle cx="150.9" cy="769.8" r="2.3" fill="#1A102C" fill-opacity="0.79"/>
<circle cx="154.8" cy="769.9" r="2.3" fill="#1A102C" fill-opacity="0.79"/>
<circle cx="156.4" cy="770.3" r="2.3" fill="#1A102C" fill-opacity="0.79"/>
<circle cx="161.3" cy="770.5" r="2.3" fill="#1A102C" fill-opacity="0.79"/>
<circle cx="149.0" cy="773.0" r="2.3" fill="#1A102C" fill-opacity="0.79"/>
<circle cx="152.3" cy="772.1" r="2.3" fill="#1A102C" fill-opacity="0.79"/>
<circle cx="154.8" cy="773.2" r="2.3" fill="#1A102C" fill-opacity="0.79"/>
<circle cx="158.3" cy="772.5" r="2.3" fill="#1A102C" fill-opacity="0.79"/>
<circle cx="161.2" cy="772.6" r="2.3" fill="#1A102C" fill-opacity="0.79"/>
<circle cx="151.5" cy="776.1" r="2.3" fill="#1A102C" fill-opacity="0.79"/>
<circle cx="153.6" cy="775.3" r="2.3" fill="#1A102C" fill-opacity="0.79"/>
<circle cx="157.9" cy="776.3" r="2.3" fill="#1A102C" fill-opacity="0.79"/>
<circle cx="159.8" cy="775.0" r="2.3" fill="#1A102C" fill-opacity="0.79"/>
<circle cx="149.2" cy="778.4" r="2.3" fill="#1A102C" fill-opacity="0.79"/>
<circle cx="151.5" cy="778.1" r="2.3" fill="#1A102C" fill-opacity="0.79"/>
<circle cx="155.7" cy="779.1" r="2.3" fill="#1A102C" fill-opacity="0.79"/>
<circle cx="158.8" cy="778.5" r="2.3" fill="#1A102C" fill-opacity="0.79"/>
<circle cx="161.2" cy="779.0" r="2.3" fill="#1A102C" fill-opacity="0.79"/>
<circle cx="151.5" cy="781.6" r="2.3" fill="#1A102C" fill-opacity="0.79"/>
<circle cx="153.8" cy="780.3" r="2.3" fill="#1A102C" fill-opacity="0.79"/>
<circle cx="156.4" cy="780.3" r="2.3" fill="#1A102C" fill-opacity="0.79"/>
<circle cx="159.8" cy="780.8" r="2.3" fill="#1A102C" fill-opacity="0.79"/>
<circle cx="162.7" cy="780.4" r="2.3" fill="#1A102C" fill-opacity="0.79"/>
<circle cx="149.0" cy="783.0" r="2.3" fill="#1A102C" fill-opacity="0.79"/>
<circle cx="152.6" cy="783.2" r="2.3" fill="#1A102C" fill-opacity="0.79"/>
<circle cx="155.3" cy="783.6" r="2.3" fill="#1A102C" fill-opacity="0.79"/>
<circle cx="159.4" cy="784.7" r="2.3" fill="#1A102C" fill-opacity="0.79"/>
<circle cx="162.0" cy="783.1" r="2.3" fill="#1A102C" fill-opacity="0.79"/>
<circle cx="164.9" cy="783.4" r="2.3" fill="#1A102C" fill-opacity="0.79"/>
<circle cx="150.2" cy="785.8" r="2.3" fill="#1A102C" fill-opacity="0.79"/>
<circle cx="156.6" cy="786.7" r="2.3" fill="#1A102C" fill-opacity="0.79"/>
<circle cx="160.5" cy="787.5" r="2.3" fill="#1A102C" fill-opacity="0.79"/>
<circle cx="164.0" cy="786.2" r="2.3" fill="#1A102C" fill-opacity="0.79"/>
<circle cx="151.8" cy="789.9" r="2.3" fill="#1A102C" fill-opacity="0.79"/>
<circle cx="156.1" cy="789.1" r="2.3" fill="#1A102C" fill-opacity="0.79"/>
<circle cx="159.4" cy="790.3" r="2.3" fill="#1A102C" fill-opacity="0.79"/>
<circle cx="162.6" cy="790.0" r="2.3" fill="#1A102C" fill-opacity="0.79"/>
<circle cx="164.7" cy="789.4" r="2.3" fill="#1A102C" fill-opacity="0.79"/>
<circle cx="150.0" cy="791.3" r="2.3" fill="#1A102C" fill-opacity="0.79"/>
<circle cx="153.6" cy="792.5" r="2.3" fill="#1A102C" fill-opacity="0.79"/>
<circle cx="161.2" cy="793.1" r="2.3" fill="#1A102C" fill-opacity="0.79"/>
<circle cx="166.3" cy="791.7" r="2.3" fill="#1A102C" fill-opacity="0.79"/>
<circle cx="151.9" cy="795.2" r="2.3" fill="#1A102C" fill-opacity="0.79"/>
<circle cx="156.2" cy="794.9" r="2.3" fill="#1A102C" fill-opacity="0.79"/>
<circle cx="159.3" cy="794.2" r="2.3" fill="#1A102C" fill-opacity="0.79"/>
<circle cx="162.7" cy="795.5" r="2.3" fill="#1A102C" fill-opacity="0.79"/>
<circle cx="165.2" cy="794.4" r="2.3" fill="#1A102C" fill-opacity="0.79"/>
<circle cx="168.1" cy="795.5" r="2.3" fill="#1A102C" fill-opacity="0.79"/>
<circle cx="149.8" cy="795.8" r="2.3" fill="#1A102C" fill-opacity="0.79"/>
<circle cx="153.6" cy="795.4" r="2.3" fill="#1A102C" fill-opacity="0.79"/>
<circle cx="155.7" cy="796.7" r="2.3" fill="#1A102C" fill-opacity="0.79"/>
<circle cx="158.8" cy="796.6" r="2.3" fill="#1A102C" fill-opacity="0.79"/>
<circle cx="162.9" cy="795.7" r="2.3" fill="#1A102C" fill-opacity="0.79"/>
<circle cx="165.1" cy="795.1" r="2.3" fill="#1A102C" fill-opacity="0.79"/>
<circle cx="169.2" cy="796.0" r="2.3" fill="#1A102C" fill-opacity="0.79"/>
<circle cx="171.9" cy="796.7" r="2.3" fill="#1A102C" fill-opacity="0.79"/>
<circle cx="174.7" cy="795.6" r="2.3" fill="#1A102C" fill-opacity="0.79"/>
<circle cx="177.9" cy="796.2" r="2.3" fill="#1A102C" fill-opacity="0.79"/>
<circle cx="181.4" cy="795.3" r="2.3" fill="#1A102C" fill-opacity="0.79"/>
<circle cx="184.4" cy="795.9" r="2.3" fill="#1A102C" fill-opacity="0.79"/>
<circle cx="152.3" cy="798.6" r="2.3" fill="#1A102C" fill-opacity="0.79"/>
<circle cx="154.7" cy="798.8" r="2.3" fill="#1A102C" fill-opacity="0.79"/>
<circle cx="157.0" cy="798.6" r="2.3" fill="#1A102C" fill-opacity="0.79"/>
<circle cx="160.1" cy="799.3" r="2.3" fill="#1A102C" fill-opacity="0.79"/>
<circle cx="164.1" cy="799.1" r="2.3" fill="#1A102C" fill-opacity="0.79"/>
<circle cx="167.0" cy="798.8" r="2.3" fill="#1A102C" fill-opacity="0.79"/>
<circle cx="171.0" cy="798.0" r="2.3" fill="#1A102C" fill-opacity="0.79"/>
<circle cx="173.2" cy="798.3" r="2.3" fill="#1A102C" fill-opacity="0.79"/>
<circle cx="176.8" cy="798.9" r="2.3" fill="#1A102C" fill-opacity="0.79"/>
<circle cx="180.7" cy="798.6" r="2.3" fill="#1A102C" fill-opacity="0.79"/>
<circle cx="183.1" cy="798.8" r="2.3" fill="#1A102C" fill-opacity="0.79"/>
<circle cx="186.1" cy="798.8" r="2.3" fill="#1A102C" fill-opacity="0.79"/>
<circle cx="190.2" cy="799.1" r="2.3" fill="#1A102C" fill-opacity="0.79"/>
<circle cx="150.8" cy="801.0" r="2.3" fill="#1A102C" fill-opacity="0.79"/>
<circle cx="153.9" cy="802.1" r="2.3" fill="#1A102C" fill-opacity="0.79"/>
<circle cx="155.6" cy="801.4" r="2.3" fill="#1A102C" fill-opacity="0.79"/>
<circle cx="159.0" cy="800.7" r="2.3" fill="#1A102C" fill-opacity="0.79"/>
<circle cx="163.1" cy="802.2" r="2.3" fill="#1A102C" fill-opacity="0.79"/>
<circle cx="166.1" cy="801.8" r="2.3" fill="#1A102C" fill-opacity="0.79"/>
<circle cx="169.6" cy="802.3" r="2.3" fill="#1A102C" fill-opacity="0.79"/>
<circle cx="172.9" cy="801.3" r="2.3" fill="#1A102C" fill-opacity="0.79"/>
<circle cx="176.1" cy="802.1" r="2.3" fill="#1A102C" fill-opacity="0.79"/>
<circle cx="178.2" cy="801.5" r="2.3" fill="#1A102C" fill-opacity="0.79"/>
<circle cx="181.0" cy="801.2" r="2.3" fill="#1A102C" fill-opacity="0.79"/>
<circle cx="183.8" cy="801.6" r="2.3" fill="#1A102C" fill-opacity="0.79"/>
<circle cx="186.9" cy="801.2" r="2.3" fill="#1A102C" fill-opacity="0.79"/>
<circle cx="191.0" cy="800.7" r="2.3" fill="#1A102C" fill-opacity="0.79"/>
<circle cx="194.6" cy="802.3" r="2.3" fill="#1A102C" fill-opacity="0.79"/>
<circle cx="151.2" cy="803.4" r="2.3" fill="#1A102C" fill-opacity="0.79"/>
<circle cx="154.3" cy="803.6" r="2.3" fill="#1A102C" fill-opacity="0.79"/>
<circle cx="158.6" cy="804.8" r="2.3" fill="#1A102C" fill-opacity="0.79"/>
<circle cx="160.4" cy="805.0" r="2.3" fill="#1A102C" fill-opacity="0.79"/>
<circle cx="164.5" cy="803.5" r="2.3" fill="#1A102C" fill-opacity="0.79"/>
<circle cx="167.7" cy="804.1" r="2.3" fill="#1A102C" fill-opacity="0.79"/>
<circle cx="171.3" cy="804.5" r="2.3" fill="#1A102C" fill-opacity="0.79"/>
<circle cx="172.9" cy="804.9" r="2.3" fill="#1A102C" fill-opacity="0.79"/>
<circle cx="177.4" cy="804.1" r="2.3" fill="#1A102C" fill-opacity="0.79"/>
<circle cx="180.0" cy="805.0" r="2.3" fill="#1A102C" fill-opacity="0.79"/>
<circle cx="182.4" cy="804.3" r="2.3" fill="#1A102C" fill-opacity="0.79"/>
<circle cx="185.5" cy="803.6" r="2.3" fill="#1A102C" fill-opacity="0.79"/>
<circle cx="188.8" cy="803.9" r="2.3" fill="#1A102C" fill-opacity="0.79"/>
<circle cx="193.0" cy="803.8" r="2.3" fill="#1A102C" fill-opacity="0.79"/>
<circle cx="149.4" cy="806.7" r="2.3" fill="#1A102C" fill-opacity="0.79"/>
<circle cx="152.7" cy="806.1" r="2.3" fill="#1A102C" fill-opacity="0.79"/>
<circle cx="156.4" cy="806.4" r="2.3" fill="#1A102C" fill-opacity="0.79"/>
<circle cx="160.2" cy="806.3" r="2.3" fill="#1A102C" fill-opacity="0.79"/>
<circle cx="162.5" cy="807.0" r="2.3" fill="#1A102C" fill-opacity="0.79"/>
<circle cx="165.6" cy="807.0" r="2.3" fill="#1A102C" fill-opacity="0.79"/>
<circle cx="169.8" cy="806.7" r="2.3" fill="#1A102C" fill-opacity="0.79"/>
<circle cx="172.4" cy="807.2" r="2.3" fill="#1A102C" fill-opacity="0.79"/>
<circle cx="174.9" cy="806.2" r="2.3" fill="#1A102C" fill-opacity="0.79"/>
<circle cx="177.6" cy="807.4" r="2.3" fill="#1A102C" fill-opacity="0.79"/>
<circle cx="180.9" cy="806.2" r="2.3" fill="#1A102C" fill-opacity="0.79"/>
<circle cx="185.3" cy="807.3" r="2.3" fill="#1A102C" fill-opacity="0.79"/>
<circle cx="187.3" cy="806.6" r="2.3" fill="#1A102C" fill-opacity="0.79"/>
<circle cx="190.3" cy="806.9" r="2.3" fill="#1A102C" fill-opacity="0.79"/>
<circle cx="194.9" cy="807.8" r="2.3" fill="#1A102C" fill-opacity="0.79"/>
<circle cx="151.1" cy="810.5" r="2.3" fill="#1A102C" fill-opacity="0.79"/>
<circle cx="154.5" cy="808.8" r="2.3" fill="#1A102C" fill-opacity="0.79"/>
<circle cx="157.8" cy="809.7" r="2.3" fill="#1A102C" fill-opacity="0.79"/>
<circle cx="161.0" cy="808.8" r="2.3" fill="#1A102C" fill-opacity="0.79"/>
<circle cx="163.4" cy="809.5" r="2.3" fill="#1A102C" fill-opacity="0.79"/>
<circle cx="166.5" cy="809.4" r="2.3" fill="#1A102C" fill-opacity="0.79"/>
<circle cx="170.6" cy="809.8" r="2.3" fill="#1A102C" fill-opacity="0.79"/>
<circle cx="173.9" cy="810.1" r="2.3" fill="#1A102C" fill-opacity="0.79"/>
<circle cx="176.6" cy="809.4" r="2.3" fill="#1A102C" fill-opacity="0.79"/>
<circle cx="179.3" cy="810.1" r="2.3" fill="#1A102C" fill-opacity="0.79"/>
<circle cx="182.3" cy="810.3" r="2.3" fill="#1A102C" fill-opacity="0.79"/>
<circle cx="186.5" cy="810.1" r="2.3" fill="#1A102C" fill-opacity="0.79"/>
<circle cx="188.7" cy="809.7" r="2.3" fill="#1A102C" fill-opacity="0.79"/>
<circle cx="193.1" cy="810.3" r="2.3" fill="#1A102C" fill-opacity="0.79"/>
<circle cx="150.2" cy="813.2" r="2.3" fill="#1A102C" fill-opacity="0.79"/>
<circle cx="153.5" cy="812.0" r="2.3" fill="#1A102C" fill-opacity="0.79"/>
<circle cx="155.6" cy="812.2" r="2.3" fill="#1A102C" fill-opacity="0.79"/>
<circle cx="160.1" cy="812.5" r="2.3" fill="#1A102C" fill-opacity="0.79"/>
<circle cx="162.8" cy="812.8" r="2.3" fill="#1A102C" fill-opacity="0.79"/>
<circle cx="164.9" cy="813.0" r="2.3" fill="#1A102C" fill-opacity="0.79"/>
<circle cx="168.9" cy="812.5" r="2.3" fill="#1A102C" fill-opacity="0.79"/>
<circle cx="171.3" cy="812.9" r="2.3" fill="#1A102C" fill-opacity="0.79"/>
<circle cx="174.4" cy="812.0" r="2.3" fill="#1A102C" fill-opacity="0.79"/>
<circle cx="177.8" cy="812.9" r="2.3" fill="#1A102C" fill-opacity="0.79"/>
<circle cx="181.5" cy="812.2" r="2.3" fill="#1A102C" fill-opacity="0.79"/>
<circle cx="185.0" cy="812.9" r="2.3" fill="#1A102C" fill-opacity="0.79"/>
<circle cx="188.1" cy="811.7" r="2.3" fill="#1A102C" fill-opacity="0.79"/>
<circle cx="190.5" cy="812.9" r="2.3" fill="#1A102C" fill-opacity="0.79"/>
<circle cx="194.2" cy="811.6" r="2.3" fill="#1A102C" fill-opacity="0.79"/>
<circle cx="151.2" cy="815.5" r="2.3" fill="#1A102C" fill-opacity="0.79"/>
<circle cx="155.0" cy="814.8" r="2.3" fill="#1A102C" fill-opacity="0.79"/>
<circle cx="157.8" cy="815.1" r="2.3" fill="#1A102C" fill-opacity="0.79"/>
<circle cx="161.7" cy="814.6" r="2.3" fill="#1A102C" fill-opacity="0.79"/>
<circle cx="165.0" cy="814.3" r="2.3" fill="#1A102C" fill-opacity="0.79"/>
<circle cx="167.9" cy="816.0" r="2.3" fill="#1A102C" fill-opacity="0.79"/>
<circle cx="170.1" cy="814.7" r="2.3" fill="#1A102C" fill-opacity="0.79"/>
<circle cx="173.1" cy="815.3" r="2.3" fill="#1A102C" fill-opacity="0.79"/>
<circle cx="176.8" cy="816.0" r="2.3" fill="#1A102C" fill-opacity="0.79"/>
<circle cx="180.5" cy="815.2" r="2.3" fill="#1A102C" fill-opacity="0.79"/>
<circle cx="183.4" cy="814.7" r="2.3" fill="#1A102C" fill-opacity="0.79"/>
<circle cx="186.2" cy="814.3" r="2.3" fill="#1A102C" fill-opacity="0.79"/>
<circle cx="189.4" cy="815.1" r="2.3" fill="#1A102C" fill-opacity="0.79"/>
<circle cx="191.9" cy="814.9" r="2.3" fill="#1A102C" fill-opacity="0.79"/>
<circle cx="150.6" cy="817.0" r="2.3" fill="#1A102C" fill-opacity="0.79"/>
<circle cx="153.8" cy="817.2" r="2.3" fill="#1A102C" fill-opacity="0.79"/>
<circle cx="156.7" cy="818.6" r="2.3" fill="#1A102C" fill-opacity="0.79"/>
<circle cx="159.2" cy="817.7" r="2.3" fill="#1A102C" fill-opacity="0.79"/>
<circle cx="162.8" cy="817.7" r="2.3" fill="#1A102C" fill-opacity="0.79"/>
<circle cx="165.3" cy="817.1" r="2.3" fill="#1A102C" fill-opacity="0.79"/>
<circle cx="169.5" cy="817.5" r="2.3" fill="#1A102C" fill-opacity="0.79"/>
<circle cx="171.6" cy="817.5" r="2.3" fill="#1A102C" fill-opacity="0.79"/>
<circle cx="174.6" cy="817.7" r="2.3" fill="#1A102C" fill-opacity="0.79"/>
<circle cx="179.0" cy="818.5" r="2.3" fill="#1A102C" fill-opacity="0.79"/>
<circle cx="182.2" cy="818.7" r="2.3" fill="#1A102C" fill-opacity="0.79"/>
<circle cx="185.0" cy="817.1" r="2.3" fill="#1A102C" fill-opacity="0.79"/>
<circle cx="187.7" cy="818.4" r="2.3" fill="#1A102C" fill-opacity="0.79"/>
<circle cx="190.6" cy="817.1" r="2.3" fill="#1A102C" fill-opacity="0.79"/>
<circle cx="193.4" cy="817.9" r="2.3" fill="#1A102C" fill-opacity="0.79"/>
<circle cx="151.2" cy="821.1" r="2.3" fill="#1A102C" fill-opacity="0.79"/>
<circle cx="154.3" cy="820.9" r="2.3" fill="#1A102C" fill-opacity="0.79"/>
<circle cx="158.0" cy="820.5" r="2.3" fill="#1A102C" fill-opacity="0.79"/>
<circle cx="160.4" cy="820.1" r="2.3" fill="#1A102C" fill-opacity="0.79"/>
<circle cx="164.2" cy="820.2" r="2.3" fill="#1A102C" fill-opacity="0.79"/>
<circle cx="168.2" cy="820.6" r="2.3" fill="#1A102C" fill-opacity="0.79"/>
<circle cx="169.9" cy="819.9" r="2.3" fill="#1A102C" fill-opacity="0.79"/>
<circle cx="172.9" cy="820.2" r="2.3" fill="#1A102C" fill-opacity="0.79"/>
<circle cx="176.9" cy="821.4" r="2.3" fill="#1A102C" fill-opacity="0.79"/>
<circle cx="179.8" cy="820.5" r="2.3" fill="#1A102C" fill-opacity="0.79"/>
<circle cx="182.9" cy="820.4" r="2.3" fill="#1A102C" fill-opacity="0.79"/>
<circle cx="185.8" cy="821.5" r="2.3" fill="#1A102C" fill-opacity="0.79"/>
<circle cx="189.4" cy="820.9" r="2.3" fill="#1A102C" fill-opacity="0.79"/>
<circle cx="192.0" cy="820.3" r="2.3" fill="#1A102C" fill-opacity="0.79"/>
<circle cx="153.0" cy="823.3" r="2.3" fill="#1A102C" fill-opacity="0.79"/>
<circle cx="156.9" cy="824.1" r="2.3" fill="#1A102C" fill-opacity="0.79"/>
<circle cx="158.6" cy="823.8" r="2.3" fill="#1A102C" fill-opacity="0.79"/>
<circle cx="162.6" cy="823.6" r="2.3" fill="#1A102C" fill-opacity="0.79"/>
<circle cx="165.6" cy="824.2" r="2.3" fill="#1A102C" fill-opacity="0.79"/>
<circle cx="169.5" cy="824.3" r="2.3" fill="#1A102C" fill-opacity="0.79"/>
<circle cx="171.3" cy="822.8" r="2.3" fill="#1A102C" fill-opacity="0.79"/>
<circle cx="175.5" cy="824.2" r="2.3" fill="#1A102C" fill-opacity="0.79"/>
<circle cx="178.6" cy="823.9" r="2.3" fill="#1A102C" fill-opacity="0.79"/>
<circle cx="181.6" cy="822.6" r="2.3" fill="#1A102C" fill-opacity="0.79"/>
<circle cx="184.2" cy="824.2" r="2.3" fill="#1A102C" fill-opacity="0.79"/>
<circle cx="187.4" cy="822.7" r="2.3" fill="#1A102C" fill-opacity="0.79"/>
<circle cx="191.2" cy="823.8" r="2.3" fill="#1A102C" fill-opacity="0.79"/>
<circle cx="193.3" cy="823.4" r="2.3" fill="#1A102C" fill-opacity="0.79"/>
<circle cx="151.4" cy="825.6" r="2.3" fill="#1A102C" fill-opacity="0.79"/>
<circle cx="153.8" cy="825.8" r="2.3" fill="#1A102C" fill-opacity="0.79"/>
<circle cx="158.7" cy="826.4" r="2.3" fill="#1A102C" fill-opacity="0.79"/>
<circle cx="161.0" cy="825.7" r="2.3" fill="#1A102C" fill-opacity="0.79"/>
<circle cx="165.0" cy="826.5" r="2.3" fill="#1A102C" fill-opacity="0.79"/>
<circle cx="166.5" cy="826.1" r="2.3" fill="#1A102C" fill-opacity="0.79"/>
<circle cx="170.3" cy="825.7" r="2.3" fill="#1A102C" fill-opacity="0.79"/>
<circle cx="174.4" cy="825.7" r="2.3" fill="#1A102C" fill-opacity="0.79"/>
<circle cx="176.5" cy="826.0" r="2.3" fill="#1A102C" fill-opacity="0.79"/>
<circle cx="179.4" cy="826.7" r="2.3" fill="#1A102C" fill-opacity="0.79"/>
<circle cx="183.1" cy="825.6" r="2.3" fill="#1A102C" fill-opacity="0.79"/>
<circle cx="185.9" cy="826.7" r="2.3" fill="#1A102C" fill-opacity="0.79"/>
<circle cx="188.9" cy="826.6" r="2.3" fill="#1A102C" fill-opacity="0.79"/>
<circle cx="193.3" cy="826.1" r="2.3" fill="#1A102C" fill-opacity="0.79"/>
<circle cx="152.7" cy="828.7" r="2.3" fill="#1A102C" fill-opacity="0.79"/>
<circle cx="157.1" cy="828.2" r="2.3" fill="#1A102C" fill-opacity="0.79"/>
<circle cx="158.9" cy="829.7" r="2.3" fill="#1A102C" fill-opacity="0.79"/>
<circle cx="161.8" cy="828.1" r="2.3" fill="#1A102C" fill-opacity="0.79"/>
<circle cx="166.5" cy="829.6" r="2.3" fill="#1A102C" fill-opacity="0.79"/>
<circle cx="169.8" cy="829.7" r="2.3" fill="#1A102C" fill-opacity="0.79"/>
<circle cx="171.5" cy="829.7" r="2.3" fill="#1A102C" fill-opacity="0.79"/>
<circle cx="174.4" cy="829.2" r="2.3" fill="#1A102C" fill-opacity="0.79"/>
<circle cx="178.1" cy="828.6" r="2.3" fill="#1A102C" fill-opacity="0.79"/>
<circle cx="180.6" cy="828.5" r="2.3" fill="#1A102C" fill-opacity="0.79"/>
<circle cx="185.5" cy="828.2" r="2.3" fill="#1A102C" fill-opacity="0.79"/>
<circle cx="187.3" cy="828.6" r="2.3" fill="#1A102C" fill-opacity="0.79"/>
<circle cx="191.5" cy="828.8" r="2.3" fill="#1A102C" fill-opacity="0.79"/>
<circle cx="154.7" cy="831.4" r="2.3" fill="#1A102C" fill-opacity="0.79"/>
<circle cx="157.3" cy="831.4" r="2.3" fill="#1A102C" fill-opacity="0.79"/>
<circle cx="160.2" cy="831.5" r="2.3" fill="#1A102C" fill-opacity="0.79"/>
<circle cx="164.7" cy="830.8" r="2.3" fill="#1A102C" fill-opacity="0.79"/>
<circle cx="166.5" cy="832.4" r="2.3" fill="#1A102C" fill-opacity="0.79"/>
<circle cx="170.9" cy="832.3" r="2.3" fill="#1A102C" fill-opacity="0.79"/>
<circle cx="173.2" cy="832.5" r="2.3" fill="#1A102C" fill-opacity="0.79"/>
<circle cx="176.3" cy="832.0" r="2.3" fill="#1A102C" fill-opacity="0.79"/>
<circle cx="179.5" cy="830.7" r="2.3" fill="#1A102C" fill-opacity="0.79"/>
<circle cx="183.8" cy="831.9" r="2.3" fill="#1A102C" fill-opacity="0.79"/>
<circle cx="185.4" cy="831.1" r="2.3" fill="#1A102C" fill-opacity="0.79"/>
<circle cx="190.2" cy="832.4" r="2.3" fill="#1A102C" fill-opacity="0.79"/>
<circle cx="155.9" cy="834.2" r="2.3" fill="#1A102C" fill-opacity="0.79"/>
<circle cx="160.2" cy="833.8" r="2.3" fill="#1A102C" fill-opacity="0.79"/>
<circle cx="163.0" cy="834.9" r="2.3" fill="#1A102C" fill-opacity="0.79"/>
<circle cx="165.9" cy="834.1" r="2.3" fill="#1A102C" fill-opacity="0.79"/>
<circle cx="168.7" cy="834.9" r="2.3" fill="#1A102C" fill-opacity="0.79"/>
<circle cx="171.5" cy="834.8" r="2.3" fill="#1A102C" fill-opacity="0.79"/>
<circle cx="174.4" cy="833.5" r="2.3" fill="#1A102C" fill-opacity="0.79"/>
<circle cx="178.0" cy="835.2" r="2.3" fill="#1A102C" fill-opacity="0.79"/>
<circle cx="182.4" cy="833.9" r="2.3" fill="#1A102C" fill-opacity="0.79"/>
<circle cx="183.9" cy="834.4" r="2.3" fill="#1A102C" fill-opacity="0.79"/>
<circle cx="187.7" cy="833.9" r="2.3" fill="#1A102C" fill-opacity="0.79"/>
<circle cx="161.2" cy="837.4" r="2.3" fill="#1A102C" fill-opacity="0.79"/>
<circle cx="164.8" cy="837.4" r="2.3" fill="#1A102C" fill-opacity="0.79"/>
<circle cx="167.9" cy="836.7" r="2.3" fill="#1A102C" fill-opacity="0.79"/>
<circle cx="170.2" cy="837.5" r="2.3" fill="#1A102C" fill-opacity="0.79"/>
<circle cx="173.2" cy="836.6" r="2.3" fill="#1A102C" fill-opacity="0.79"/>
<circle cx="177.5" cy="837.2" r="2.3" fill="#1A102C" fill-opacity="0.79"/>
<circle cx="179.7" cy="838.0" r="2.3" fill="#1A102C" fill-opacity="0.79"/>
<circle cx="197.7" cy="807.8" r="2.3" fill="#1A102C" fill-opacity="0.79"/>
<circle cx="199.3" cy="812.1" r="2.3" fill="#1A102C" fill-opacity="0.79"/>
<circle cx="199.0" cy="818.7" r="2.3" fill="#1A102C" fill-opacity="0.79"/>
<circle cx="198.0" cy="823.7" r="2.3" fill="#1A102C" fill-opacity="0.79"/>
<circle cx="195.5" cy="827.4" r="2.3" fill="#1A102C" fill-opacity="0.79"/>
<circle cx="200.0" cy="828.4" r="2.3" fill="#1A102C" fill-opacity="0.79"/>
<circle cx="197.3" cy="831.8" r="2.3" fill="#1A102C" fill-opacity="0.79"/>
<circle cx="201.4" cy="830.8" r="2.3" fill="#1A102C" fill-opacity="0.79"/>
<circle cx="194.2" cy="760.7" r="2.3" fill="#1A102C" fill-opacity="0.79"/>
<circle cx="187.3" cy="763.9" r="2.3" fill="#1A102C" fill-opacity="0.79"/>
<circle cx="196.5" cy="763.6" r="2.3" fill="#1A102C" fill-opacity="0.79"/>
<circle cx="189.6" cy="767.8" r="2.3" fill="#1A102C" fill-opacity="0.79"/>
<circle cx="179.0" cy="772.1" r="2.3" fill="#1A102C" fill-opacity="0.79"/>
<circle cx="187.9" cy="772.6" r="2.3" fill="#1A102C" fill-opacity="0.79"/>
<circle cx="192.7" cy="771.4" r="2.3" fill="#1A102C" fill-opacity="0.79"/>
<circle cx="190.9" cy="774.9" r="2.3" fill="#1A102C" fill-opacity="0.79"/>
<circle cx="195.5" cy="775.3" r="2.3" fill="#1A102C" fill-opacity="0.79"/>
<circle cx="187.3" cy="779.3" r="2.3" fill="#1A102C" fill-opacity="0.79"/>
<circle cx="201.4" cy="778.9" r="2.3" fill="#1A102C" fill-opacity="0.79"/>
<circle cx="185.7" cy="783.0" r="2.3" fill="#1A102C" fill-opacity="0.79"/>
<circle cx="194.7" cy="783.6" r="2.3" fill="#1A102C" fill-opacity="0.79"/>
<circle cx="178.9" cy="787.6" r="2.3" fill="#1A102C" fill-opacity="0.79"/>
<circle cx="193.4" cy="786.5" r="2.3" fill="#1A102C" fill-opacity="0.79"/>
<circle cx="186.7" cy="789.9" r="2.3" fill="#1A102C" fill-opacity="0.79"/>
<circle cx="183.4" cy="794.0" r="2.3" fill="#1A102C" fill-opacity="0.79"/>
<circle cx="196.3" cy="794.6" r="2.3" fill="#1A102C" fill-opacity="0.79"/>
<circle cx="140.4" cy="761.4" r="2.3" fill="#1A102C" fill-opacity="0.79"/>
<circle cx="146.1" cy="759.9" r="2.3" fill="#1A102C" fill-opacity="0.79"/>
<circle cx="140.6" cy="778.2" r="2.3" fill="#1A102C" fill-opacity="0.79"/>
<circle cx="135.2" cy="786.0" r="2.3" fill="#1A102C" fill-opacity="0.79"/>
<circle cx="140.1" cy="785.9" r="2.3" fill="#1A102C" fill-opacity="0.79"/>
<circle cx="138.1" cy="790.2" r="2.3" fill="#1A102C" fill-opacity="0.79"/>
<circle cx="140.3" cy="795.3" r="2.3" fill="#1A102C" fill-opacity="0.79"/>
<circle cx="148.4" cy="650.7" r="2.2" fill="#DDA0E0" fill-opacity="0.85"/>
<circle cx="123.9" cy="654.6" r="2.2" fill="#DDA0E0" fill-opacity="0.85"/>
<circle cx="136.7" cy="657.8" r="2.2" fill="#DDA0E0" fill-opacity="0.85"/>
<circle cx="113.9" cy="674.5" r="2.2" fill="#DDA0E0" fill-opacity="0.85"/>
<circle cx="115.7" cy="677.4" r="2.2" fill="#DDA0E0" fill-opacity="0.85"/>
<circle cx="139.1" cy="684.4" r="2.2" fill="#DDA0E0" fill-opacity="0.85"/>
<circle cx="154.5" cy="682.3" r="2.2" fill="#DDA0E0" fill-opacity="0.85"/>
<circle cx="142.6" cy="689.0" r="2.2" fill="#DDA0E0" fill-opacity="0.85"/>
<circle cx="128.0" cy="695.1" r="2.2" fill="#DDA0E0" fill-opacity="0.85"/>
<circle cx="133.6" cy="695.5" r="2.2" fill="#DDA0E0" fill-opacity="0.85"/>
<circle cx="139.6" cy="695.5" r="2.2" fill="#DDA0E0" fill-opacity="0.85"/>
<circle cx="149.0" cy="699.0" r="2.2" fill="#DDA0E0" fill-opacity="0.85"/>
<circle cx="143.1" cy="701.3" r="2.2" fill="#DDA0E0" fill-opacity="0.85"/>
<circle cx="142.0" cy="704.2" r="2.2" fill="#DDA0E0" fill-opacity="0.85"/>
<circle cx="131.5" cy="707.7" r="2.2" fill="#DDA0E0" fill-opacity="0.85"/>
<circle cx="135.5" cy="710.1" r="2.2" fill="#DDA0E0" fill-opacity="0.85"/>
<circle cx="142.3" cy="709.8" r="2.2" fill="#DDA0E0" fill-opacity="0.85"/>
<circle cx="137.9" cy="714.2" r="2.2" fill="#DDA0E0" fill-opacity="0.85"/>
<circle cx="156.0" cy="708.3" r="2.2" fill="#DDA0E0" fill-opacity="0.85"/>
<circle cx="127.4" cy="717.1" r="2.2" fill="#DDA0E0" fill-opacity="0.85"/>
<circle cx="131.6" cy="708.2" r="2.2" fill="#DDA0E0" fill-opacity="0.85"/>
<circle cx="141.5" cy="704.7" r="2.2" fill="#DDA0E0" fill-opacity="0.85"/>
<circle cx="143.3" cy="701.4" r="2.2" fill="#DDA0E0" fill-opacity="0.85"/>
<circle cx="138.0" cy="714.6" r="2.2" fill="#DDA0E0" fill-opacity="0.85"/>
<circle cx="127.3" cy="716.9" r="2.2" fill="#DDA0E0" fill-opacity="0.85"/>
<circle cx="128.1" cy="719.9" r="2.2" fill="#DDA0E0" fill-opacity="0.85"/>
<circle cx="118.8" cy="721.6" r="2.2" fill="#DDA0E0" fill-opacity="0.85"/>
<circle cx="123.4" cy="725.7" r="2.2" fill="#DDA0E0" fill-opacity="0.85"/>
<circle cx="131.6" cy="725.1" r="2.2" fill="#DDA0E0" fill-opacity="0.85"/>
<circle cx="136.9" cy="726.3" r="2.2" fill="#DDA0E0" fill-opacity="0.85"/>
<circle cx="140.4" cy="726.9" r="2.2" fill="#DDA0E0" fill-opacity="0.85"/>
<circle cx="147.4" cy="720.4" r="2.2" fill="#DDA0E0" fill-opacity="0.85"/>
<circle cx="147.4" cy="725.1" r="2.2" fill="#DDA0E0" fill-opacity="0.85"/>
<circle cx="130.4" cy="729.8" r="2.2" fill="#DDA0E0" fill-opacity="0.85"/>
<circle cx="135.1" cy="729.2" r="2.2" fill="#DDA0E0" fill-opacity="0.85"/>
<circle cx="125.8" cy="734.8" r="2.2" fill="#DDA0E0" fill-opacity="0.85"/>
<circle cx="123.8" cy="737.1" r="2.2" fill="#DDA0E0" fill-opacity="0.85"/>
<circle cx="131.6" cy="735.6" r="2.2" fill="#DDA0E0" fill-opacity="0.85"/>
<circle cx="131.6" cy="738.0" r="2.2" fill="#DDA0E0" fill-opacity="0.85"/>
<circle cx="152.6" cy="733.9" r="2.2" fill="#DDA0E0" fill-opacity="0.85"/>
<circle cx="147.4" cy="737.4" r="2.2" fill="#DDA0E0" fill-opacity="0.85"/>
<circle cx="156.1" cy="708.8" r="2.2" fill="#DDA0E0" fill-opacity="0.85"/>
<circle cx="154.9" cy="682.0" r="2.2" fill="#DDA0E0" fill-opacity="0.85"/>
<circle cx="148.8" cy="650.5" r="2.2" fill="#DDA0E0" fill-opacity="0.85"/>
<circle cx="141.6" cy="616.2" r="2.2" fill="#DDA0E0" fill-opacity="0.85"/>
<circle cx="136.6" cy="626.0" r="2.2" fill="#DDA0E0" fill-opacity="0.85"/>
<circle cx="37.2" cy="730.9" r="2.2" fill="#DDA0E0" fill-opacity="0.85"/>
<circle cx="67.4" cy="732.0" r="2.2" fill="#DDA0E0" fill-opacity="0.85"/>
<circle cx="118.5" cy="721.8" r="2.2" fill="#DDA0E0" fill-opacity="0.85"/>
<circle cx="186.0" cy="663.0" r="2.1" fill="#A8E6BE" fill-opacity="0.85"/>
<circle cx="186.4" cy="666.3" r="2.1" fill="#A8E6BE" fill-opacity="0.85"/>
<circle cx="202.4" cy="663.0" r="2.1" fill="#A8E6BE" fill-opacity="0.85"/>
<circle cx="195.8" cy="667.4" r="2.1" fill="#A8E6BE" fill-opacity="0.85"/>
<circle cx="188.6" cy="673.9" r="2.1" fill="#A8E6BE" fill-opacity="0.85"/>
<circle cx="194.7" cy="673.9" r="2.1" fill="#A8E6BE" fill-opacity="0.85"/>
<circle cx="195.8" cy="681.6" r="2.1" fill="#A8E6BE" fill-opacity="0.85"/>
<circle cx="215.5" cy="677.9" r="2.1" fill="#A8E6BE" fill-opacity="0.85"/>
<circle cx="186.0" cy="687.7" r="2.1" fill="#A8E6BE" fill-opacity="0.85"/>
<circle cx="191.9" cy="691.0" r="2.1" fill="#A8E6BE" fill-opacity="0.85"/>
<circle cx="197.4" cy="693.2" r="2.1" fill="#A8E6BE" fill-opacity="0.85"/>
<circle cx="200.2" cy="695.4" r="2.1" fill="#A8E6BE" fill-opacity="0.85"/>
<circle cx="194.7" cy="697.6" r="2.1" fill="#A8E6BE" fill-opacity="0.85"/>
<circle cx="203.1" cy="697.4" r="2.1" fill="#A8E6BE" fill-opacity="0.85"/>
<circle cx="193.0" cy="700.9" r="2.1" fill="#A8E6BE" fill-opacity="0.85"/>
<circle cx="207.4" cy="704.2" r="2.1" fill="#A8E6BE" fill-opacity="0.85"/>
<circle cx="209.6" cy="705.7" r="2.1" fill="#A8E6BE" fill-opacity="0.85"/>
<circle cx="191.0" cy="705.0" r="2.1" fill="#A8E6BE" fill-opacity="0.85"/>
<circle cx="184.9" cy="722.1" r="2.1" fill="#A8E6BE" fill-opacity="0.85"/>
<circle cx="201.7" cy="736.3" r="2.1" fill="#A8E6BE" fill-opacity="0.85"/>
<circle cx="225.0" cy="739.6" r="2.1" fill="#A8E6BE" fill-opacity="0.85"/>
<circle cx="204.7" cy="634.2" r="2.1" fill="#A8E6BE" fill-opacity="0.85"/>
<circle cx="201.7" cy="737.2" r="2.1" fill="#A8E6BE" fill-opacity="0.85"/>
<circle cx="103.4" cy="561.0" r="2.5" fill="#DDA0E0" stroke="#E87858" stroke-width="1.3"/>
<circle cx="143.1" cy="596.9" r="2.5" fill="#DDA0E0" stroke="#E87858" stroke-width="1.3"/>
<circle cx="147.8" cy="642.9" r="2.5" fill="#DDA0E0" stroke="#E87858" stroke-width="1.3"/>
<circle cx="141.4" cy="658.1" r="2.5" fill="#DDA0E0" stroke="#E87858" stroke-width="1.3"/>
<circle cx="120.1" cy="679.1" r="2.5" fill="#DDA0E0" stroke="#E87858" stroke-width="1.3"/>
<circle cx="128.3" cy="687.7" r="2.5" fill="#DDA0E0" stroke="#E87858" stroke-width="1.3"/>
<circle cx="145.5" cy="694.9" r="2.5" fill="#DDA0E0" stroke="#E87858" stroke-width="1.3"/>
<circle cx="147.1" cy="711.2" r="2.5" fill="#DDA0E0" stroke="#E87858" stroke-width="1.3"/>
<circle cx="135.5" cy="720.6" r="2.5" fill="#DDA0E0" stroke="#E87858" stroke-width="1.3"/>
<circle cx="141.3" cy="722.2" r="2.5" fill="#DDA0E0" stroke="#E87858" stroke-width="1.3"/>
<circle cx="144.8" cy="733.3" r="2.5" fill="#DDA0E0" stroke="#E87858" stroke-width="1.3"/>
<circle cx="59.4" cy="730.6" r="2.5" fill="#DDA0E0" stroke="#E87858" stroke-width="1.3"/>
<circle cx="192.2" cy="652.1" r="2.5" fill="#A8E6BE" stroke="#E87858" stroke-width="1.3"/>
<circle cx="239.2" cy="665.2" r="2.5" fill="#A8E6BE" stroke="#E87858" stroke-width="1.3"/>
<circle cx="232.6" cy="717.1" r="2.5" fill="#A8E6BE" stroke="#E87858" stroke-width="1.3"/>
<line x1="127.5" y1="712.5" x2="135.5" y2="720.6" stroke="#E87858" stroke-width="0.9"/>
<line x1="141.3" y1="722.2" x2="154.5" y2="724.6" stroke="#E87858" stroke-width="0.9"/>
<rect x="25.8" y="547.6" width="264.5" height="302.6" fill="none" stroke="#D2D2D2" stroke-width="1"/>
<text x="97.4" y="559.2" font-size="9.55" fill="#000" stroke="#000" text-anchor="start">caffeine</text>
<text x="118.8" y="594.7" font-size="9.55" fill="#000" stroke="#000" text-anchor="start">thiamin monophosphate</text>
<text x="101.5" y="618.5" font-size="9.55" fill="#808080" stroke="#808080" text-anchor="start">X-23639</text>
<text x="96.1" y="632.9" font-size="9.55" fill="#808080" stroke="#808080" text-anchor="start">X-24422</text>
<text x="195.8" y="630.8" font-size="9.55" fill="#808080" stroke="#808080" text-anchor="start">X-21441</text>
<text x="142.9" y="640.6" font-size="9.55" fill="#000" stroke="#000" text-anchor="start">uridine</text>
<text x="186.2" y="649.3" font-size="9.55" fill="#000" stroke="#000" text-anchor="start">allantoin</text>
<text x="36.1" y="655.4" font-size="9.55" fill="#000" stroke="#000" text-anchor="start">2-O-methylascorbic acid</text>
<text x="242.4" y="662.9" font-size="9.55" fill="#000" stroke="#000" text-anchor="start">2,2'-methylenebis</text>
<text x="242.4" y="671.5" font-size="9.55" fill="#000" stroke="#000" text-anchor="start">(6-tert-butyl-p-cresol)</text>
<text x="33.2" y="675.6" font-size="9.55" fill="#000" stroke="#000" text-anchor="start">inosine 5'-monophosphate (IMP)</text>
<text x="37.0" y="692.2" font-size="9.55" fill="#000" stroke="#000" text-anchor="start">ascorbate/vitamin C</text>
<text x="145.0" y="693.1" font-size="9.55" fill="#000" stroke="#000" text-anchor="start">threonate</text>
<text x="217.2" y="703.4" font-size="9.55" fill="#000" stroke="#000" text-anchor="start">nicotinamide adenine</text>
<text x="26.5" y="706.0" font-size="9.55" fill="#000" stroke="#000" text-anchor="start">adenosine</text>
<text x="146.6" y="707.9" font-size="9.55" fill="#000" stroke="#000" text-anchor="start">inosine</text>
<text x="217.2" y="711.7" font-size="9.55" fill="#000" stroke="#000" text-anchor="start">dinucleotide (NAD+)</text>
<text x="26.5" y="713.9" font-size="9.55" fill="#000" stroke="#000" text-anchor="start">5'monophosphate(AMP)</text>
<text x="155.0" y="728.2" font-size="9.55" fill="#000" stroke="#000" text-anchor="start">adenosine 5'-diphosphate (ADP)</text>
<text x="33.4" y="743.1" font-size="9.55" fill="#000" stroke="#000" text-anchor="start">N-methylproline</text>
<text x="146.1" y="745.4" font-size="9.55" fill="#000" stroke="#000" text-anchor="start">adenosine 3',5'-cyclic</text>
<text x="146.1" y="752.4" font-size="9.55" fill="#000" stroke="#000" text-anchor="start">monophosphate (cAMP)</text>
<text x="23.8" y="838.9" font-size="12.2" fill="#000" stroke="#000" text-anchor="end">0</text>
<text x="23.8" y="764.7" font-size="12.2" fill="#000" stroke="#000" text-anchor="end">1</text>
<text x="23.8" y="690.5" font-size="12.2" fill="#000" stroke="#000" text-anchor="end">2</text>
<text x="23.8" y="616.3" font-size="12.2" fill="#000" stroke="#000" text-anchor="end">3</text>
<text x="29.8" y="862.9" font-size="12.2" fill="#000" stroke="#000" text-anchor="middle">-4</text>
<text x="97.8" y="862.9" font-size="12.2" fill="#000" stroke="#000" text-anchor="middle">-2</text>
<text x="167.4" y="862.9" font-size="12.2" fill="#000" stroke="#000" text-anchor="middle">0</text>
<text x="235.4" y="862.9" font-size="12.2" fill="#000" stroke="#000" text-anchor="middle">2</text>
<text x="164.3" y="878.1" font-size="13.4" fill="#000" stroke="#000" text-anchor="middle" font-weight="bold">Fold change</text>
<text x="0" y="0" font-size="13.6" font-weight="bold" fill="#000" stroke="#000" text-anchor="middle" transform="translate(10.9 690.5) rotate(-90)">-log10(p-value)</text>
<text x="2.6" y="559.6" font-size="22" font-weight="bold" fill="#000" stroke="#000">B</text>
<circle cx="294.0" cy="560.3" r="2.6" fill="#D890D8" stroke="#3A3050" stroke-width="0.9"/>
<circle cx="294.0" cy="581.8" r="2.6" fill="#2A2238" stroke="#3A3050" stroke-width="0.9"/>
<circle cx="294.0" cy="619.2" r="2.6" fill="#90DDB0" stroke="#3A3050" stroke-width="0.9"/>
<text x="298.6" y="563.1" font-size="8.1" fill="#000" stroke="#000">decreased in</text>
<text x="298.6" y="570.8" font-size="8.1" fill="#000" stroke="#000"><tspan font-style="italic">BRAF</tspan> V600E</text>
<text x="298.6" y="583.9" font-size="8.1" fill="#000" stroke="#000">no significant</text>
<text x="298.6" y="591.1" font-size="8.1" fill="#000" stroke="#000">change between</text>
<text x="298.6" y="598.4" font-size="8.1" fill="#000" stroke="#000">BRAF V600E</text>
<text x="298.6" y="605.6" font-size="8.1" fill="#000" stroke="#000">and WT</text>
<text x="298.6" y="621.6" font-size="8.1" fill="#000" stroke="#000">increased in</text>
<text x="298.6" y="629.3" font-size="8.1" fill="#000" stroke="#000"><tspan font-style="italic">BRAF</tspan> V600E</text>
<line x1="410.5" y1="546.7" x2="410.5" y2="850.0" stroke="#F7F7F7" stroke-width="1"/>
<line x1="486.5" y1="546.7" x2="486.5" y2="850.0" stroke="#F7F7F7" stroke-width="1"/>
<line x1="562.5" y1="546.7" x2="562.5" y2="850.0" stroke="#F7F7F7" stroke-width="1"/>
<line x1="379.3" y1="560.9" x2="638.4" y2="560.9" stroke="#F7F7F7" stroke-width="1"/>
<line x1="379.3" y1="617.8" x2="638.4" y2="617.8" stroke="#F7F7F7" stroke-width="1"/>
<line x1="379.3" y1="674.6" x2="638.4" y2="674.6" stroke="#F7F7F7" stroke-width="1"/>
<line x1="379.3" y1="731.5" x2="638.4" y2="731.5" stroke="#F7F7F7" stroke-width="1"/>
<line x1="379.3" y1="788.5" x2="638.4" y2="788.5" stroke="#F7F7F7" stroke-width="1"/>
<line x1="379.3" y1="845.4" x2="638.4" y2="845.4" stroke="#F7F7F7" stroke-width="1"/>
<line x1="448.5" y1="546.7" x2="448.5" y2="850.0" stroke="#F0F0F0" stroke-width="1"/>
<line x1="524.5" y1="546.7" x2="524.5" y2="850.0" stroke="#F0F0F0" stroke-width="1"/>
<line x1="600.5" y1="546.7" x2="600.5" y2="850.0" stroke="#F0F0F0" stroke-width="1"/>
<line x1="379.3" y1="589.3" x2="638.4" y2="589.3" stroke="#F0F0F0" stroke-width="1"/>
<line x1="379.3" y1="646.2" x2="638.4" y2="646.2" stroke="#F0F0F0" stroke-width="1"/>
<line x1="379.3" y1="703.1" x2="638.4" y2="703.1" stroke="#F0F0F0" stroke-width="1"/>
<line x1="379.3" y1="760.0" x2="638.4" y2="760.0" stroke="#F0F0F0" stroke-width="1"/>
<line x1="379.3" y1="816.9" x2="638.4" y2="816.9" stroke="#F0F0F0" stroke-width="1"/>
<circle cx="466.6" cy="568.0" r="5.0" fill="#7FA6D6"/>
<circle cx="484.7" cy="635.5" r="5.0" fill="#7FA6D6"/>
<circle cx="443.0" cy="646.1" r="5.0" fill="#7FA6D6"/>
<circle cx="465.9" cy="690.5" r="5.0" fill="#7FA6D6"/>
<circle cx="391.0" cy="702.6" r="5.0" fill="#7FA6D6"/>
<circle cx="530.2" cy="721.0" r="5.0" fill="#7FA6D6"/>
<circle cx="570.2" cy="750.8" r="5.0" fill="#7FA6D6"/>
<circle cx="492.3" cy="719.8" r="5.0" fill="#E9A56C"/>
<circle cx="588.6" cy="759.7" r="5.0" fill="#E9A56C"/>
<circle cx="626.1" cy="759.7" r="5.0" fill="#E9A56C"/>
<polygon points="391.0,560.4 394.9,564.4 398.8,568.3 402.8,572.2 406.7,576.1 410.6,580.0 414.5,583.9 418.4,587.7 422.3,591.5 426.3,595.3 430.2,599.0 434.1,602.7 438.0,606.3 441.9,609.9 445.9,613.5 449.8,617.0 453.7,620.5 457.6,623.8 461.5,627.2 465.4,630.4 469.4,633.6 473.3,636.6 477.2,639.6 481.1,642.5 485.0,645.3 489.0,648.0 492.9,650.5 496.8,653.0 500.7,655.3 504.6,657.5 508.6,659.5 512.5,661.5 516.4,663.3 520.3,665.0 524.2,666.6 528.1,668.1 532.1,669.5 536.0,670.7 539.9,671.9 543.8,673.0 547.7,674.0 551.7,674.9 555.6,675.8 559.5,676.6 563.4,677.4 567.3,678.0 571.2,678.7 575.2,679.3 579.1,679.8 583.0,680.4 586.9,680.8 590.8,681.3 594.8,681.7 598.7,682.1 602.6,682.5 606.5,682.8 610.4,683.1 614.3,683.4 618.3,683.7 622.2,684.0 626.1,684.2 626.1,836.1 622.2,832.2 618.3,828.2 614.3,824.2 610.4,820.3 606.5,816.4 602.6,812.5 598.7,808.6 594.8,804.8 590.8,800.9 586.9,797.1 583.0,793.4 579.1,789.7 575.2,786.0 571.2,782.3 567.3,778.7 563.4,775.2 559.5,771.7 555.6,768.3 551.7,764.9 547.7,761.6 543.8,758.3 539.9,755.2 536.0,752.1 532.1,749.2 528.1,746.3 524.2,743.5 520.3,740.9 516.4,738.4 512.5,735.9 508.6,733.6 504.6,731.5 500.7,729.4 496.8,727.5 492.9,725.7 489.0,724.0 485.0,722.5 481.1,721.0 477.2,719.6 473.3,718.4 469.4,717.2 465.4,716.2 461.5,715.2 457.6,714.2 453.7,713.4 449.8,712.6 445.9,711.9 441.9,711.2 438.0,710.5 434.1,710.0 430.2,709.4 426.3,708.9 422.3,708.4 418.4,708.0 414.5,707.6 410.6,707.2 406.7,706.8 402.8,706.5 398.8,706.2 394.9,705.9 391.0,705.6" fill="#999999" fill-opacity="0.4"/>
<line x1="391.0" y1="633.0" x2="626.1" y2="760.2" stroke="#E8542A" stroke-width="1.1"/>
<rect x="379.3" y="546.7" width="259.1" height="303.3" fill="none" stroke="#D2D2D2" stroke-width="1"/>
<text x="377.6" y="592.5" font-size="12.2" fill="#4D4D4D" stroke="#4D4D4D" text-anchor="end">3</text>
<text x="377.6" y="649.4" font-size="12.2" fill="#4D4D4D" stroke="#4D4D4D" text-anchor="end">2</text>
<text x="377.6" y="706.3" font-size="12.2" fill="#4D4D4D" stroke="#4D4D4D" text-anchor="end">1</text>
<text x="377.6" y="763.2" font-size="12.2" fill="#4D4D4D" stroke="#4D4D4D" text-anchor="end">0</text>
<text x="452.0" y="862.6" font-size="12.2" fill="#4D4D4D" stroke="#4D4D4D" text-anchor="middle">65</text>
<text x="528.0" y="862.6" font-size="12.2" fill="#4D4D4D" stroke="#4D4D4D" text-anchor="middle">70</text>
<text x="604.0" y="862.6" font-size="12.2" fill="#4D4D4D" stroke="#4D4D4D" text-anchor="middle">75</text>
<text x="512.9" y="879.3" font-size="13.5" fill="#000" stroke="#000" text-anchor="middle" font-weight="bold">Average methylation %</text>
<text x="0" y="0" font-size="13.5" font-weight="bold" fill="#000" stroke="#000" text-anchor="middle" transform="translate(367.4 681.7) rotate(-90)">Ascorbate levels</text>
<text x="357.6" y="559.6" font-size="22" font-weight="bold" fill="#000" stroke="#000">C</text>
<circle cx="645.8" cy="700.8" r="4.6" fill="#E9A56C"/>
<circle cx="645.8" cy="715.6" r="4.6" fill="#7FA6D6"/>
<text x="652.0" y="705.2" font-size="10.6" fill="#000" stroke="#000" text-anchor="start">V600E</text>
<text x="653.4" y="720.2" font-size="10.6" fill="#000" stroke="#000" text-anchor="start">WT</text>
</svg></body></html>
